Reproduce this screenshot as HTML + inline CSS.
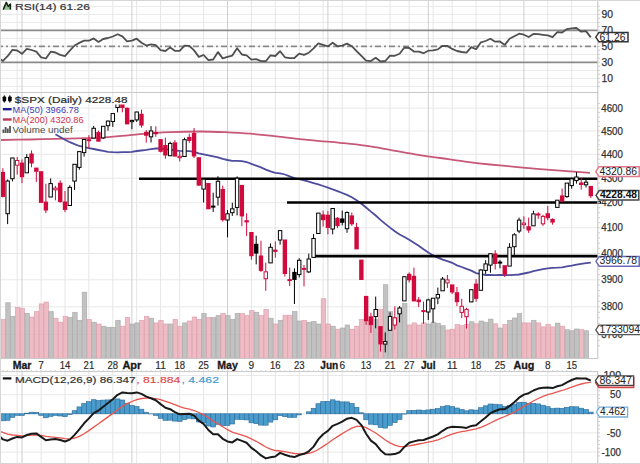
<!DOCTYPE html>
<html><head><meta charset="utf-8"><style>html,body{margin:0;padding:0;background:#fff;width:640px;height:464px;overflow:hidden}svg{display:block}</style></head><body><svg width="640" height="464" viewBox="0 0 640 464" font-family="Liberation Sans, sans-serif"><rect width="640" height="464" fill="#fff"/><path d="M0 86.4H597.8 M0 78.4H597.8 M0 70.4H597.8 M0 62.4H597.8 M0 54.4H597.8 M0 46.4H597.8 M0 38.4H597.8 M0 30.4H597.8 M0 22.4H597.8 M0 14.4H597.8 M0 6.4H597.8 M0 334.5H597.8 M0 306.8H597.8 M0 279.8H597.8 M0 253.5H597.8 M0 227.8H597.8 M0 202.7H597.8 M0 178.2H597.8 M0 154.3H597.8 M0 131.0H597.8 M0 108.1H597.8 M0 452.1H597.8 M0 432.9H597.8 M0 413.8H597.8 M0 394.7H597.8 M0 375.5H597.8" stroke="#e9e9e9" stroke-width="1" fill="none"/><path d="M17.2 0V92.5 M17.2 92.5V358.5 M17.2 371.6V464 M41.1 0V92.5 M41.1 92.5V358.5 M41.1 371.6V464 M65.0 0V92.5 M65.0 92.5V358.5 M65.0 371.6V464 M88.9 0V92.5 M88.9 92.5V358.5 M88.9 371.6V464 M112.8 0V92.5 M112.8 92.5V358.5 M112.8 371.6V464 M136.7 0V92.5 M136.7 92.5V358.5 M136.7 371.6V464 M160.6 0V92.5 M160.6 92.5V358.5 M160.6 371.6V464 M179.7 0V92.5 M179.7 92.5V358.5 M179.7 371.6V464 M203.6 0V92.5 M203.6 92.5V358.5 M203.6 371.6V464 M251.4 0V92.5 M251.4 92.5V358.5 M251.4 371.6V464 M275.3 0V92.5 M275.3 92.5V358.5 M275.3 371.6V464 M299.2 0V92.5 M299.2 92.5V358.5 M299.2 371.6V464 M323.1 0V92.5 M323.1 92.5V358.5 M323.1 371.6V464 M342.2 0V92.5 M342.2 92.5V358.5 M342.2 371.6V464 M366.1 0V92.5 M366.1 92.5V358.5 M366.1 371.6V464 M390.0 0V92.5 M390.0 92.5V358.5 M390.0 371.6V464 M409.2 0V92.5 M409.2 92.5V358.5 M409.2 371.6V464 M433.1 0V92.5 M433.1 92.5V358.5 M433.1 371.6V464 M452.2 0V92.5 M452.2 92.5V358.5 M452.2 371.6V464 M476.1 0V92.5 M476.1 92.5V358.5 M476.1 371.6V464 M500.0 0V92.5 M500.0 92.5V358.5 M500.0 371.6V464 M547.8 0V92.5 M547.8 92.5V358.5 M547.8 371.6V464 M571.7 0V92.5 M571.7 92.5V358.5 M571.7 371.6V464" stroke="#e6e6e6" stroke-width="1" fill="none"/><path d="M22.0 0V92.5 M22.0 92.5V358.5 M22.0 371.6V464 M131.9 0V92.5 M131.9 92.5V358.5 M131.9 371.6V464 M227.5 0V92.5 M227.5 92.5V358.5 M227.5 371.6V464 M327.9 0V92.5 M327.9 92.5V358.5 M327.9 371.6V464 M428.3 0V92.5 M428.3 92.5V358.5 M428.3 371.6V464 M523.9 0V92.5 M523.9 92.5V358.5 M523.9 371.6V464" stroke="#cfcfcf" stroke-width="1" fill="none"/><path d="M0 30.4H597.8M0 62.4H597.8" stroke="#8a8a8a" stroke-width="1.6" fill="none"/><path d="M0 46.4H597.8" stroke="#8a8a8a" stroke-width="1.7" stroke-dasharray="6 3 2 3" stroke-dashoffset="3" fill="none"/><polyline points="-1.9,57.7 2.9,60.9 7.6,56.2 12.4,49.9 17.2,50.5 22.0,53.8 26.8,48.8 31.5,50.0 36.3,51.7 41.1,57.3 45.9,58.5 50.7,51.7 55.4,52.5 60.2,54.9 65.0,56.2 69.8,50.6 74.6,45.5 79.3,42.9 84.1,40.6 88.9,40.7 93.7,38.4 98.5,41.9 103.2,39.0 108.0,38.0 112.8,36.5 117.6,34.2 122.4,36.4 127.1,41.4 131.9,40.6 136.7,38.7 141.5,42.7 146.3,45.6 151.0,44.4 155.8,45.2 160.6,50.1 165.4,51.0 170.2,47.4 174.9,50.8 179.7,50.8 184.5,45.7 189.3,45.9 194.1,50.4 198.8,56.9 203.6,55.0 208.4,60.2 213.2,59.5 218.0,52.1 222.7,58.4 227.5,56.9 232.3,55.6 237.1,48.3 241.9,54.5 246.6,55.4 251.4,59.7 256.2,59.1 261.0,61.1 265.8,61.2 270.5,55.4 275.3,56.0 280.1,51.2 284.9,57.3 289.7,58.1 294.4,58.0 299.2,53.7 304.0,54.9 308.8,52.7 313.6,48.3 318.3,43.4 323.1,44.8 327.9,46.4 332.7,42.7 337.5,46.3 342.2,45.6 347.0,43.6 351.8,46.2 356.6,51.1 361.4,55.9 366.1,60.7 370.9,61.1 375.7,57.8 380.5,61.5 385.3,61.0 390.0,55.6 394.8,55.8 399.6,53.7 404.4,47.5 409.2,48.0 413.9,51.5 418.7,51.7 423.5,53.2 428.3,50.7 433.1,50.3 437.8,49.4 442.6,45.8 447.4,46.0 452.2,48.9 457.0,51.0 461.7,52.0 466.5,52.7 471.3,47.1 476.1,49.2 480.9,42.3 485.6,41.0 490.4,38.8 495.2,41.7 500.0,41.4 504.8,44.9 509.5,38.8 514.3,36.3 519.1,33.7 523.9,34.7 528.7,37.0 533.4,33.9 538.2,34.2 543.0,34.8 547.8,35.3 552.6,37.1 557.3,32.2 562.1,32.5 566.9,29.1 571.7,28.3 576.5,28.0 581.2,31.7 586.0,31.1 590.8,37.4" stroke="#505050" stroke-width="1.8" fill="none" stroke-linejoin="round"/><rect x="0.96" y="319.4" width="4.5" height="38.9" fill="#eaadb7" fill-opacity="0.82" stroke="#dc9aa8" stroke-opacity="0.85" stroke-width="0.7"/><rect x="5.74" y="302.7" width="4.5" height="55.6" fill="#b4b4b4" fill-opacity="0.82" stroke="#a6a6a6" stroke-opacity="0.85" stroke-width="0.7"/><rect x="10.52" y="316.3" width="4.5" height="42.0" fill="#b4b4b4" fill-opacity="0.82" stroke="#a6a6a6" stroke-opacity="0.85" stroke-width="0.7"/><rect x="15.30" y="307.4" width="4.5" height="50.9" fill="#eaadb7" fill-opacity="0.82" stroke="#dc9aa8" stroke-opacity="0.85" stroke-width="0.7"/><rect x="20.08" y="308.6" width="4.5" height="49.7" fill="#eaadb7" fill-opacity="0.82" stroke="#dc9aa8" stroke-opacity="0.85" stroke-width="0.7"/><rect x="24.86" y="313.3" width="4.5" height="45.0" fill="#b4b4b4" fill-opacity="0.82" stroke="#a6a6a6" stroke-opacity="0.85" stroke-width="0.7"/><rect x="29.64" y="317.0" width="4.5" height="41.3" fill="#eaadb7" fill-opacity="0.82" stroke="#dc9aa8" stroke-opacity="0.85" stroke-width="0.7"/><rect x="34.42" y="311.6" width="4.5" height="46.7" fill="#eaadb7" fill-opacity="0.82" stroke="#dc9aa8" stroke-opacity="0.85" stroke-width="0.7"/><rect x="39.20" y="303.9" width="4.5" height="54.4" fill="#eaadb7" fill-opacity="0.82" stroke="#dc9aa8" stroke-opacity="0.85" stroke-width="0.7"/><rect x="43.98" y="302.0" width="4.5" height="56.3" fill="#eaadb7" fill-opacity="0.82" stroke="#dc9aa8" stroke-opacity="0.85" stroke-width="0.7"/><rect x="48.76" y="311.6" width="4.5" height="46.7" fill="#b4b4b4" fill-opacity="0.82" stroke="#a6a6a6" stroke-opacity="0.85" stroke-width="0.7"/><rect x="53.54" y="318.2" width="4.5" height="40.1" fill="#eaadb7" fill-opacity="0.82" stroke="#dc9aa8" stroke-opacity="0.85" stroke-width="0.7"/><rect x="58.32" y="322.2" width="4.5" height="36.1" fill="#eaadb7" fill-opacity="0.82" stroke="#dc9aa8" stroke-opacity="0.85" stroke-width="0.7"/><rect x="63.10" y="316.3" width="4.5" height="42.0" fill="#eaadb7" fill-opacity="0.82" stroke="#dc9aa8" stroke-opacity="0.85" stroke-width="0.7"/><rect x="67.88" y="317.5" width="4.5" height="40.8" fill="#b4b4b4" fill-opacity="0.82" stroke="#a6a6a6" stroke-opacity="0.85" stroke-width="0.7"/><rect x="72.66" y="312.3" width="4.5" height="46.0" fill="#b4b4b4" fill-opacity="0.82" stroke="#a6a6a6" stroke-opacity="0.85" stroke-width="0.7"/><rect x="77.44" y="320.3" width="4.5" height="38.0" fill="#b4b4b4" fill-opacity="0.82" stroke="#a6a6a6" stroke-opacity="0.85" stroke-width="0.7"/><rect x="82.22" y="292.2" width="4.5" height="66.1" fill="#b4b4b4" fill-opacity="0.82" stroke="#a6a6a6" stroke-opacity="0.85" stroke-width="0.7"/><rect x="87.00" y="319.4" width="4.5" height="38.9" fill="#eaadb7" fill-opacity="0.82" stroke="#dc9aa8" stroke-opacity="0.85" stroke-width="0.7"/><rect x="91.78" y="322.2" width="4.5" height="36.1" fill="#b4b4b4" fill-opacity="0.82" stroke="#a6a6a6" stroke-opacity="0.85" stroke-width="0.7"/><rect x="96.56" y="324.0" width="4.5" height="34.3" fill="#eaadb7" fill-opacity="0.82" stroke="#dc9aa8" stroke-opacity="0.85" stroke-width="0.7"/><rect x="101.34" y="326.2" width="4.5" height="32.1" fill="#b4b4b4" fill-opacity="0.82" stroke="#a6a6a6" stroke-opacity="0.85" stroke-width="0.7"/><rect x="106.12" y="327.3" width="4.5" height="31.0" fill="#b4b4b4" fill-opacity="0.82" stroke="#a6a6a6" stroke-opacity="0.85" stroke-width="0.7"/><rect x="110.90" y="327.3" width="4.5" height="31.0" fill="#b4b4b4" fill-opacity="0.82" stroke="#a6a6a6" stroke-opacity="0.85" stroke-width="0.7"/><rect x="115.68" y="320.3" width="4.5" height="38.0" fill="#b4b4b4" fill-opacity="0.82" stroke="#a6a6a6" stroke-opacity="0.85" stroke-width="0.7"/><rect x="120.46" y="326.2" width="4.5" height="32.1" fill="#eaadb7" fill-opacity="0.82" stroke="#dc9aa8" stroke-opacity="0.85" stroke-width="0.7"/><rect x="125.24" y="317.5" width="4.5" height="40.8" fill="#eaadb7" fill-opacity="0.82" stroke="#dc9aa8" stroke-opacity="0.85" stroke-width="0.7"/><rect x="130.02" y="324.0" width="4.5" height="34.3" fill="#b4b4b4" fill-opacity="0.82" stroke="#a6a6a6" stroke-opacity="0.85" stroke-width="0.7"/><rect x="134.80" y="322.9" width="4.5" height="35.4" fill="#b4b4b4" fill-opacity="0.82" stroke="#a6a6a6" stroke-opacity="0.85" stroke-width="0.7"/><rect x="139.58" y="320.3" width="4.5" height="38.0" fill="#eaadb7" fill-opacity="0.82" stroke="#dc9aa8" stroke-opacity="0.85" stroke-width="0.7"/><rect x="144.36" y="316.3" width="4.5" height="42.0" fill="#eaadb7" fill-opacity="0.82" stroke="#dc9aa8" stroke-opacity="0.85" stroke-width="0.7"/><rect x="149.14" y="318.2" width="4.5" height="40.1" fill="#b4b4b4" fill-opacity="0.82" stroke="#a6a6a6" stroke-opacity="0.85" stroke-width="0.7"/><rect x="153.92" y="322.9" width="4.5" height="35.4" fill="#eaadb7" fill-opacity="0.82" stroke="#dc9aa8" stroke-opacity="0.85" stroke-width="0.7"/><rect x="158.70" y="320.3" width="4.5" height="38.0" fill="#eaadb7" fill-opacity="0.82" stroke="#dc9aa8" stroke-opacity="0.85" stroke-width="0.7"/><rect x="163.48" y="324.0" width="4.5" height="34.3" fill="#eaadb7" fill-opacity="0.82" stroke="#dc9aa8" stroke-opacity="0.85" stroke-width="0.7"/><rect x="168.26" y="324.0" width="4.5" height="34.3" fill="#b4b4b4" fill-opacity="0.82" stroke="#a6a6a6" stroke-opacity="0.85" stroke-width="0.7"/><rect x="173.04" y="319.4" width="4.5" height="38.9" fill="#eaadb7" fill-opacity="0.82" stroke="#dc9aa8" stroke-opacity="0.85" stroke-width="0.7"/><rect x="177.82" y="326.2" width="4.5" height="32.1" fill="#eaadb7" fill-opacity="0.82" stroke="#dc9aa8" stroke-opacity="0.85" stroke-width="0.7"/><rect x="182.60" y="322.9" width="4.5" height="35.4" fill="#b4b4b4" fill-opacity="0.82" stroke="#a6a6a6" stroke-opacity="0.85" stroke-width="0.7"/><rect x="187.38" y="321.0" width="4.5" height="37.3" fill="#eaadb7" fill-opacity="0.82" stroke="#dc9aa8" stroke-opacity="0.85" stroke-width="0.7"/><rect x="192.16" y="317.0" width="4.5" height="41.3" fill="#eaadb7" fill-opacity="0.82" stroke="#dc9aa8" stroke-opacity="0.85" stroke-width="0.7"/><rect x="196.94" y="319.4" width="4.5" height="38.9" fill="#eaadb7" fill-opacity="0.82" stroke="#dc9aa8" stroke-opacity="0.85" stroke-width="0.7"/><rect x="201.72" y="313.5" width="4.5" height="44.8" fill="#b4b4b4" fill-opacity="0.82" stroke="#a6a6a6" stroke-opacity="0.85" stroke-width="0.7"/><rect x="206.50" y="317.5" width="4.5" height="40.8" fill="#eaadb7" fill-opacity="0.82" stroke="#dc9aa8" stroke-opacity="0.85" stroke-width="0.7"/><rect x="211.28" y="317.5" width="4.5" height="40.8" fill="#b4b4b4" fill-opacity="0.82" stroke="#a6a6a6" stroke-opacity="0.85" stroke-width="0.7"/><rect x="216.06" y="315.6" width="4.5" height="42.7" fill="#b4b4b4" fill-opacity="0.82" stroke="#a6a6a6" stroke-opacity="0.85" stroke-width="0.7"/><rect x="220.84" y="313.5" width="4.5" height="44.8" fill="#eaadb7" fill-opacity="0.82" stroke="#dc9aa8" stroke-opacity="0.85" stroke-width="0.7"/><rect x="225.62" y="315.6" width="4.5" height="42.7" fill="#b4b4b4" fill-opacity="0.82" stroke="#a6a6a6" stroke-opacity="0.85" stroke-width="0.7"/><rect x="230.40" y="319.4" width="4.5" height="38.9" fill="#b4b4b4" fill-opacity="0.82" stroke="#a6a6a6" stroke-opacity="0.85" stroke-width="0.7"/><rect x="235.18" y="313.5" width="4.5" height="44.8" fill="#b4b4b4" fill-opacity="0.82" stroke="#a6a6a6" stroke-opacity="0.85" stroke-width="0.7"/><rect x="239.96" y="313.5" width="4.5" height="44.8" fill="#eaadb7" fill-opacity="0.82" stroke="#dc9aa8" stroke-opacity="0.85" stroke-width="0.7"/><rect x="244.74" y="315.6" width="4.5" height="42.7" fill="#eaadb7" fill-opacity="0.82" stroke="#dc9aa8" stroke-opacity="0.85" stroke-width="0.7"/><rect x="249.52" y="310.5" width="4.5" height="47.8" fill="#eaadb7" fill-opacity="0.82" stroke="#dc9aa8" stroke-opacity="0.85" stroke-width="0.7"/><rect x="254.30" y="312.3" width="4.5" height="46.0" fill="#b4b4b4" fill-opacity="0.82" stroke="#a6a6a6" stroke-opacity="0.85" stroke-width="0.7"/><rect x="259.08" y="315.6" width="4.5" height="42.7" fill="#eaadb7" fill-opacity="0.82" stroke="#dc9aa8" stroke-opacity="0.85" stroke-width="0.7"/><rect x="263.86" y="309.5" width="4.5" height="48.8" fill="#eaadb7" fill-opacity="0.82" stroke="#dc9aa8" stroke-opacity="0.85" stroke-width="0.7"/><rect x="268.64" y="318.2" width="4.5" height="40.1" fill="#b4b4b4" fill-opacity="0.82" stroke="#a6a6a6" stroke-opacity="0.85" stroke-width="0.7"/><rect x="273.42" y="324.0" width="4.5" height="34.3" fill="#eaadb7" fill-opacity="0.82" stroke="#dc9aa8" stroke-opacity="0.85" stroke-width="0.7"/><rect x="278.20" y="320.3" width="4.5" height="38.0" fill="#b4b4b4" fill-opacity="0.82" stroke="#a6a6a6" stroke-opacity="0.85" stroke-width="0.7"/><rect x="282.98" y="315.2" width="4.5" height="43.1" fill="#eaadb7" fill-opacity="0.82" stroke="#dc9aa8" stroke-opacity="0.85" stroke-width="0.7"/><rect x="287.76" y="315.2" width="4.5" height="43.1" fill="#eaadb7" fill-opacity="0.82" stroke="#dc9aa8" stroke-opacity="0.85" stroke-width="0.7"/><rect x="292.54" y="311.6" width="4.5" height="46.7" fill="#b4b4b4" fill-opacity="0.82" stroke="#a6a6a6" stroke-opacity="0.85" stroke-width="0.7"/><rect x="297.32" y="321.0" width="4.5" height="37.3" fill="#b4b4b4" fill-opacity="0.82" stroke="#a6a6a6" stroke-opacity="0.85" stroke-width="0.7"/><rect x="302.10" y="320.3" width="4.5" height="38.0" fill="#eaadb7" fill-opacity="0.82" stroke="#dc9aa8" stroke-opacity="0.85" stroke-width="0.7"/><rect x="306.88" y="322.2" width="4.5" height="36.1" fill="#b4b4b4" fill-opacity="0.82" stroke="#a6a6a6" stroke-opacity="0.85" stroke-width="0.7"/><rect x="311.66" y="321.5" width="4.5" height="36.8" fill="#b4b4b4" fill-opacity="0.82" stroke="#a6a6a6" stroke-opacity="0.85" stroke-width="0.7"/><rect x="316.44" y="324.0" width="4.5" height="34.3" fill="#b4b4b4" fill-opacity="0.82" stroke="#a6a6a6" stroke-opacity="0.85" stroke-width="0.7"/><rect x="321.22" y="298.7" width="4.5" height="59.6" fill="#eaadb7" fill-opacity="0.82" stroke="#dc9aa8" stroke-opacity="0.85" stroke-width="0.7"/><rect x="326.00" y="324.0" width="4.5" height="34.3" fill="#eaadb7" fill-opacity="0.82" stroke="#dc9aa8" stroke-opacity="0.85" stroke-width="0.7"/><rect x="330.78" y="326.2" width="4.5" height="32.1" fill="#b4b4b4" fill-opacity="0.82" stroke="#a6a6a6" stroke-opacity="0.85" stroke-width="0.7"/><rect x="335.56" y="329.2" width="4.5" height="29.1" fill="#eaadb7" fill-opacity="0.82" stroke="#dc9aa8" stroke-opacity="0.85" stroke-width="0.7"/><rect x="340.34" y="328.0" width="4.5" height="30.3" fill="#b4b4b4" fill-opacity="0.82" stroke="#a6a6a6" stroke-opacity="0.85" stroke-width="0.7"/><rect x="345.12" y="325.0" width="4.5" height="33.3" fill="#b4b4b4" fill-opacity="0.82" stroke="#a6a6a6" stroke-opacity="0.85" stroke-width="0.7"/><rect x="349.90" y="329.2" width="4.5" height="29.1" fill="#eaadb7" fill-opacity="0.82" stroke="#dc9aa8" stroke-opacity="0.85" stroke-width="0.7"/><rect x="354.68" y="326.2" width="4.5" height="32.1" fill="#eaadb7" fill-opacity="0.82" stroke="#dc9aa8" stroke-opacity="0.85" stroke-width="0.7"/><rect x="359.46" y="319.4" width="4.5" height="38.9" fill="#eaadb7" fill-opacity="0.82" stroke="#dc9aa8" stroke-opacity="0.85" stroke-width="0.7"/><rect x="364.24" y="320.3" width="4.5" height="38.0" fill="#eaadb7" fill-opacity="0.82" stroke="#dc9aa8" stroke-opacity="0.85" stroke-width="0.7"/><rect x="369.02" y="317.5" width="4.5" height="40.8" fill="#eaadb7" fill-opacity="0.82" stroke="#dc9aa8" stroke-opacity="0.85" stroke-width="0.7"/><rect x="373.80" y="319.4" width="4.5" height="38.9" fill="#b4b4b4" fill-opacity="0.82" stroke="#a6a6a6" stroke-opacity="0.85" stroke-width="0.7"/><rect x="378.58" y="309.3" width="4.5" height="49.0" fill="#eaadb7" fill-opacity="0.82" stroke="#dc9aa8" stroke-opacity="0.85" stroke-width="0.7"/><rect x="383.36" y="284.7" width="4.5" height="73.6" fill="#b4b4b4" fill-opacity="0.82" stroke="#a6a6a6" stroke-opacity="0.85" stroke-width="0.7"/><rect x="388.14" y="311.6" width="4.5" height="46.7" fill="#b4b4b4" fill-opacity="0.82" stroke="#a6a6a6" stroke-opacity="0.85" stroke-width="0.7"/><rect x="392.92" y="317.5" width="4.5" height="40.8" fill="#eaadb7" fill-opacity="0.82" stroke="#dc9aa8" stroke-opacity="0.85" stroke-width="0.7"/><rect x="397.70" y="311.6" width="4.5" height="46.7" fill="#b4b4b4" fill-opacity="0.82" stroke="#a6a6a6" stroke-opacity="0.85" stroke-width="0.7"/><rect x="402.48" y="303.4" width="4.5" height="54.9" fill="#b4b4b4" fill-opacity="0.82" stroke="#a6a6a6" stroke-opacity="0.85" stroke-width="0.7"/><rect x="407.26" y="325.0" width="4.5" height="33.3" fill="#eaadb7" fill-opacity="0.82" stroke="#dc9aa8" stroke-opacity="0.85" stroke-width="0.7"/><rect x="412.04" y="322.9" width="4.5" height="35.4" fill="#eaadb7" fill-opacity="0.82" stroke="#dc9aa8" stroke-opacity="0.85" stroke-width="0.7"/><rect x="416.82" y="325.0" width="4.5" height="33.3" fill="#eaadb7" fill-opacity="0.82" stroke="#dc9aa8" stroke-opacity="0.85" stroke-width="0.7"/><rect x="421.60" y="322.9" width="4.5" height="35.4" fill="#eaadb7" fill-opacity="0.82" stroke="#dc9aa8" stroke-opacity="0.85" stroke-width="0.7"/><rect x="426.38" y="324.0" width="4.5" height="34.3" fill="#b4b4b4" fill-opacity="0.82" stroke="#a6a6a6" stroke-opacity="0.85" stroke-width="0.7"/><rect x="431.16" y="322.2" width="4.5" height="36.1" fill="#b4b4b4" fill-opacity="0.82" stroke="#a6a6a6" stroke-opacity="0.85" stroke-width="0.7"/><rect x="435.94" y="323.4" width="4.5" height="34.9" fill="#b4b4b4" fill-opacity="0.82" stroke="#a6a6a6" stroke-opacity="0.85" stroke-width="0.7"/><rect x="440.72" y="325.7" width="4.5" height="32.6" fill="#b4b4b4" fill-opacity="0.82" stroke="#a6a6a6" stroke-opacity="0.85" stroke-width="0.7"/><rect x="445.50" y="330.0" width="4.5" height="28.3" fill="#eaadb7" fill-opacity="0.82" stroke="#dc9aa8" stroke-opacity="0.85" stroke-width="0.7"/><rect x="450.28" y="329.2" width="4.5" height="29.1" fill="#eaadb7" fill-opacity="0.82" stroke="#dc9aa8" stroke-opacity="0.85" stroke-width="0.7"/><rect x="455.06" y="324.5" width="4.5" height="33.8" fill="#eaadb7" fill-opacity="0.82" stroke="#dc9aa8" stroke-opacity="0.85" stroke-width="0.7"/><rect x="459.84" y="325.7" width="4.5" height="32.6" fill="#eaadb7" fill-opacity="0.82" stroke="#dc9aa8" stroke-opacity="0.85" stroke-width="0.7"/><rect x="464.62" y="324.5" width="4.5" height="33.8" fill="#eaadb7" fill-opacity="0.82" stroke="#dc9aa8" stroke-opacity="0.85" stroke-width="0.7"/><rect x="469.40" y="321.7" width="4.5" height="36.6" fill="#b4b4b4" fill-opacity="0.82" stroke="#a6a6a6" stroke-opacity="0.85" stroke-width="0.7"/><rect x="474.18" y="323.8" width="4.5" height="34.5" fill="#eaadb7" fill-opacity="0.82" stroke="#dc9aa8" stroke-opacity="0.85" stroke-width="0.7"/><rect x="478.96" y="321.0" width="4.5" height="37.3" fill="#b4b4b4" fill-opacity="0.82" stroke="#a6a6a6" stroke-opacity="0.85" stroke-width="0.7"/><rect x="483.74" y="322.2" width="4.5" height="36.1" fill="#b4b4b4" fill-opacity="0.82" stroke="#a6a6a6" stroke-opacity="0.85" stroke-width="0.7"/><rect x="488.52" y="319.1" width="4.5" height="39.2" fill="#b4b4b4" fill-opacity="0.82" stroke="#a6a6a6" stroke-opacity="0.85" stroke-width="0.7"/><rect x="493.30" y="323.8" width="4.5" height="34.5" fill="#eaadb7" fill-opacity="0.82" stroke="#dc9aa8" stroke-opacity="0.85" stroke-width="0.7"/><rect x="498.08" y="328.0" width="4.5" height="30.3" fill="#b4b4b4" fill-opacity="0.82" stroke="#a6a6a6" stroke-opacity="0.85" stroke-width="0.7"/><rect x="502.86" y="324.5" width="4.5" height="33.8" fill="#eaadb7" fill-opacity="0.82" stroke="#dc9aa8" stroke-opacity="0.85" stroke-width="0.7"/><rect x="507.64" y="320.3" width="4.5" height="38.0" fill="#b4b4b4" fill-opacity="0.82" stroke="#a6a6a6" stroke-opacity="0.85" stroke-width="0.7"/><rect x="512.42" y="318.0" width="4.5" height="40.3" fill="#b4b4b4" fill-opacity="0.82" stroke="#a6a6a6" stroke-opacity="0.85" stroke-width="0.7"/><rect x="517.20" y="313.5" width="4.5" height="44.8" fill="#b4b4b4" fill-opacity="0.82" stroke="#a6a6a6" stroke-opacity="0.85" stroke-width="0.7"/><rect x="521.98" y="322.9" width="4.5" height="35.4" fill="#eaadb7" fill-opacity="0.82" stroke="#dc9aa8" stroke-opacity="0.85" stroke-width="0.7"/><rect x="526.76" y="322.9" width="4.5" height="35.4" fill="#eaadb7" fill-opacity="0.82" stroke="#dc9aa8" stroke-opacity="0.85" stroke-width="0.7"/><rect x="531.54" y="320.3" width="4.5" height="38.0" fill="#b4b4b4" fill-opacity="0.82" stroke="#a6a6a6" stroke-opacity="0.85" stroke-width="0.7"/><rect x="536.32" y="322.9" width="4.5" height="35.4" fill="#eaadb7" fill-opacity="0.82" stroke="#dc9aa8" stroke-opacity="0.85" stroke-width="0.7"/><rect x="541.10" y="326.9" width="4.5" height="31.4" fill="#eaadb7" fill-opacity="0.82" stroke="#dc9aa8" stroke-opacity="0.85" stroke-width="0.7"/><rect x="545.88" y="324.5" width="4.5" height="33.8" fill="#eaadb7" fill-opacity="0.82" stroke="#dc9aa8" stroke-opacity="0.85" stroke-width="0.7"/><rect x="550.66" y="326.9" width="4.5" height="31.4" fill="#eaadb7" fill-opacity="0.82" stroke="#dc9aa8" stroke-opacity="0.85" stroke-width="0.7"/><rect x="555.44" y="323.1" width="4.5" height="35.2" fill="#b4b4b4" fill-opacity="0.82" stroke="#a6a6a6" stroke-opacity="0.85" stroke-width="0.7"/><rect x="560.22" y="326.2" width="4.5" height="32.1" fill="#eaadb7" fill-opacity="0.82" stroke="#dc9aa8" stroke-opacity="0.85" stroke-width="0.7"/><rect x="565.00" y="329.7" width="4.5" height="28.6" fill="#b4b4b4" fill-opacity="0.82" stroke="#a6a6a6" stroke-opacity="0.85" stroke-width="0.7"/><rect x="569.78" y="330.7" width="4.5" height="27.6" fill="#b4b4b4" fill-opacity="0.82" stroke="#a6a6a6" stroke-opacity="0.85" stroke-width="0.7"/><rect x="574.56" y="329.0" width="4.5" height="29.3" fill="#b4b4b4" fill-opacity="0.82" stroke="#a6a6a6" stroke-opacity="0.85" stroke-width="0.7"/><rect x="579.34" y="329.7" width="4.5" height="28.6" fill="#eaadb7" fill-opacity="0.82" stroke="#dc9aa8" stroke-opacity="0.85" stroke-width="0.7"/><rect x="584.12" y="330.7" width="4.5" height="27.6" fill="#b4b4b4" fill-opacity="0.82" stroke="#a6a6a6" stroke-opacity="0.85" stroke-width="0.7"/><path d="M-3,140.1 C-2.5,140.1 -5.5,140.1 0,140 C5.5,139.9 20.8,139.7 30,139.5 C39.2,139.3 45.8,139.0 55,138.8 C64.2,138.6 76.7,138.4 85,138.2 C93.3,138.0 97.5,137.9 105,137.4 C112.5,136.9 122.5,135.9 130,135.2 C137.5,134.5 143.3,133.9 150,133.4 C156.7,132.9 161.7,132.4 170,132.1 C178.3,131.8 190.8,131.5 200,131.5 C209.2,131.5 216.7,131.8 225,132.2 C233.3,132.6 242.5,133.1 250,133.7 C257.5,134.3 261.7,134.7 270,135.6 C278.3,136.5 291.7,138.2 300,139.1 C308.3,140.0 313.3,140.5 320,141.1 C326.7,141.7 332.5,142.0 340,142.8 C347.5,143.6 356.7,144.5 365,145.7 C373.3,146.9 381.7,148.4 390,149.8 C398.3,151.2 406.7,152.9 415,154.3 C423.3,155.7 431.7,156.8 440,158 C448.3,159.2 456.7,160.6 465,161.7 C473.3,162.8 481.7,163.7 490,164.5 C498.3,165.3 506.7,166.0 515,166.8 C523.3,167.6 530.8,168.3 540,169.1 C549.2,169.8 561.7,170.7 570,171.3 C578.3,171.9 586.7,172.6 590,172.8" stroke="#c85878" stroke-width="1.8" fill="none"/><polyline points="55.4,134.3 60.2,137.0 65.0,139.8 69.8,142.2 74.6,144.2 79.3,146.0 84.1,147.1 88.9,148.2 93.7,149.0 98.5,150.0 103.2,150.9 108.0,151.8 112.8,152.2 117.6,152.3 122.4,152.2 127.1,152.2 131.9,151.9 136.7,151.0 141.5,150.5 146.3,149.9 151.0,149.2 155.8,148.5 160.6,148.5 165.4,149.1 170.2,149.6 174.9,150.5 179.7,150.9 184.5,151.1 189.3,151.2 194.1,151.8 198.8,153.3 203.6,154.3 208.4,155.4 213.2,156.4 218.0,157.3 222.7,158.9 227.5,160.0 232.3,160.8 237.1,160.9 241.9,161.2 246.6,162.0 251.4,163.9 256.2,165.7 261.0,167.4 265.8,169.6 270.5,171.3 275.3,172.8 280.1,173.3 284.9,174.5 289.7,176.4 294.4,178.1 299.2,179.2 304.0,180.3 308.8,181.7 313.6,183.1 318.3,184.4 323.1,186.0 327.9,187.7 332.7,189.4 337.5,191.1 342.2,193.0 347.0,194.9 351.8,197.2 356.6,200.2 361.4,203.7 366.1,207.5 370.9,211.6 375.7,215.5 380.5,219.9 385.3,223.9 390.0,227.6 394.8,231.3 399.6,234.5 404.4,237.0 409.2,239.8 413.9,242.7 418.7,245.7 423.5,249.2 428.3,252.4 433.1,255.4 437.8,257.6 442.6,259.6 447.4,261.1 452.2,262.8 457.0,265.3 461.7,267.0 466.5,268.9 471.3,270.6 476.1,273.1 480.9,274.2 485.6,275.0 490.4,275.0 495.2,275.2 500.0,275.0 504.8,275.1 509.5,275.1 514.3,274.8 519.1,274.5 523.9,273.5 528.7,272.5 533.4,271.2 538.2,270.2 543.0,269.1 547.8,268.3 552.6,267.9 557.3,267.7 562.1,267.3 566.9,266.3 571.7,265.7 576.5,264.7 581.2,263.9 586.0,263.2 590.8,262.6" stroke="#4e4c9c" stroke-width="1.8" fill="none"/><path d="M139 178.8H598M287 202.5H601M314.5 256.1H598" stroke="#000" stroke-width="2.6" fill="none"/><clipPath id="pc"><rect x="0" y="104.5" width="598" height="254"/></clipPath><g clip-path="url(#pc)"><path d="M2.86 168.2V172.4M2.86 196.4V197.4" stroke="#d00a3c" stroke-width="1" fill="none"/><rect x="0.66" y="171.9" width="4.4" height="25.0" fill="#d00a3c"/><path d="M7.64 179.5V181.0M7.64 213.7V224.1" stroke="#000" stroke-width="1" fill="none"/><rect x="5.94" y="181.0" width="3.4" height="32.7" fill="#fff" stroke="#000" stroke-width="1"/><path d="M12.42 157.8V158.0M12.42 178.6V181.4" stroke="#000" stroke-width="1" fill="none"/><rect x="10.72" y="158.0" width="3.4" height="20.7" fill="#fff" stroke="#000" stroke-width="1"/><path d="M17.20 157.0V160.5M17.20 165.2V174.6" stroke="#d00a3c" stroke-width="1" fill="none"/><rect x="15.50" y="160.5" width="3.4" height="4.7" fill="#fff" stroke="#d00a3c" stroke-width="1"/><path d="M21.98 159.4V163.1M21.98 176.7V183.2" stroke="#d00a3c" stroke-width="1" fill="none"/><rect x="19.78" y="162.6" width="4.4" height="14.6" fill="#d00a3c"/><path d="M26.76 154.0V157.5M26.76 172.8V172.8" stroke="#000" stroke-width="1" fill="none"/><rect x="25.06" y="157.5" width="3.4" height="15.3" fill="#fff" stroke="#000" stroke-width="1"/><path d="M31.54 150.4V154.0M31.54 163.0V167.3" stroke="#d00a3c" stroke-width="1" fill="none"/><rect x="29.34" y="153.5" width="4.4" height="10.0" fill="#d00a3c"/><path d="M36.32 168.1V168.1M36.32 171.3V181.9" stroke="#d00a3c" stroke-width="1" fill="none"/><rect x="34.12" y="167.6" width="4.4" height="4.2" fill="#d00a3c"/><path d="M41.10 171.7V171.7M41.10 202.4V202.7" stroke="#d00a3c" stroke-width="1" fill="none"/><rect x="38.90" y="171.2" width="4.4" height="31.7" fill="#d00a3c"/><path d="M45.88 183.8V202.1M45.88 210.0V213.2" stroke="#d00a3c" stroke-width="1" fill="none"/><rect x="43.68" y="201.6" width="4.4" height="8.9" fill="#d00a3c"/><path d="M50.66 178.4V183.6M50.66 197.0V197.0" stroke="#000" stroke-width="1" fill="none"/><rect x="48.96" y="183.6" width="3.4" height="13.4" fill="#fff" stroke="#000" stroke-width="1"/><path d="M55.44 185.9V188.1M55.44 189.8V200.3" stroke="#d00a3c" stroke-width="1" fill="none"/><rect x="53.74" y="188.1" width="3.4" height="1.7" fill="#fff" stroke="#d00a3c" stroke-width="1"/><path d="M60.22 180.4V183.2M60.22 201.6V202.6" stroke="#d00a3c" stroke-width="1" fill="none"/><rect x="58.02" y="182.7" width="4.4" height="19.4" fill="#d00a3c"/><path d="M65.00 191.0V202.0M65.00 209.4V212.2" stroke="#d00a3c" stroke-width="1" fill="none"/><rect x="62.80" y="201.5" width="4.4" height="8.4" fill="#d00a3c"/><path d="M69.78 185.3V187.4M69.78 205.5V205.7" stroke="#000" stroke-width="1" fill="none"/><rect x="68.08" y="187.4" width="3.4" height="18.1" fill="#fff" stroke="#000" stroke-width="1"/><path d="M74.56 164.1V164.3M74.56 181.1V189.9" stroke="#000" stroke-width="1" fill="none"/><rect x="72.86" y="164.3" width="3.4" height="16.8" fill="#fff" stroke="#000" stroke-width="1"/><path d="M79.34 151.3V151.6M79.34 167.4V169.7" stroke="#000" stroke-width="1" fill="none"/><rect x="77.64" y="151.6" width="3.4" height="15.8" fill="#fff" stroke="#000" stroke-width="1"/><path d="M84.12 139.0V139.5M84.12 152.6V156.6" stroke="#000" stroke-width="1" fill="none"/><rect x="82.42" y="139.5" width="3.4" height="13.1" fill="#fff" stroke="#000" stroke-width="1"/><path d="M88.90 135.2V139.7M88.90 140.0V148.6" stroke="#d00a3c" stroke-width="1" fill="none"/><rect x="86.70" y="139.2" width="4.4" height="2.0" fill="#d00a3c"/><path d="M93.68 125.9V128.3M93.68 138.1V138.2" stroke="#000" stroke-width="1" fill="none"/><rect x="91.98" y="128.3" width="3.4" height="9.8" fill="#fff" stroke="#000" stroke-width="1"/><path d="M98.46 130.7V132.6M98.46 141.1V141.2" stroke="#d00a3c" stroke-width="1" fill="none"/><rect x="96.26" y="132.1" width="4.4" height="9.6" fill="#d00a3c"/><path d="M103.24 126.2V126.3M103.24 137.9V139.0" stroke="#000" stroke-width="1" fill="none"/><rect x="101.54" y="126.3" width="3.4" height="11.6" fill="#fff" stroke="#000" stroke-width="1"/><path d="M108.02 120.4V121.1M108.02 125.7V130.7" stroke="#000" stroke-width="1" fill="none"/><rect x="106.32" y="121.1" width="3.4" height="4.6" fill="#fff" stroke="#000" stroke-width="1"/><path d="M112.80 113.6V113.6M112.80 121.5V126.9" stroke="#000" stroke-width="1" fill="none"/><rect x="111.10" y="113.6" width="3.4" height="7.9" fill="#fff" stroke="#000" stroke-width="1"/><path d="M117.58 99.7V101.0M117.58 107.5V112.4" stroke="#000" stroke-width="1" fill="none"/><rect x="115.88" y="101.0" width="3.4" height="6.5" fill="#fff" stroke="#000" stroke-width="1"/><path d="M122.36 101.8V102.6M122.36 107.5V112.3" stroke="#d00a3c" stroke-width="1" fill="none"/><rect x="120.16" y="102.1" width="4.4" height="5.9" fill="#d00a3c"/><path d="M127.14 107.4V108.3M127.14 124.0V124.0" stroke="#d00a3c" stroke-width="1" fill="none"/><rect x="124.94" y="107.8" width="4.4" height="16.6" fill="#d00a3c"/><path d="M131.92 119.8V120.4M131.92 121.7V129.2" stroke="#000" stroke-width="1" fill="none"/><rect x="130.22" y="120.4" width="3.4" height="1.3" fill="#fff" stroke="#000" stroke-width="1"/><path d="M136.70 111.8V112.0M136.70 119.9V121.9" stroke="#000" stroke-width="1" fill="none"/><rect x="135.00" y="112.0" width="3.4" height="7.9" fill="#fff" stroke="#000" stroke-width="1"/><path d="M141.48 109.6V114.3M141.48 125.2V127.7" stroke="#d00a3c" stroke-width="1" fill="none"/><rect x="139.28" y="113.8" width="4.4" height="11.8" fill="#d00a3c"/><path d="M146.26 130.0V132.3M146.26 135.3V142.6" stroke="#d00a3c" stroke-width="1" fill="none"/><rect x="144.06" y="131.8" width="4.4" height="4.0" fill="#d00a3c"/><path d="M151.04 126.1V130.9M151.04 136.8V142.5" stroke="#000" stroke-width="1" fill="none"/><rect x="149.34" y="130.9" width="3.4" height="5.9" fill="#fff" stroke="#000" stroke-width="1"/><path d="M155.82 126.3V132.3M155.82 133.7V136.8" stroke="#d00a3c" stroke-width="1" fill="none"/><rect x="153.62" y="131.8" width="4.4" height="2.4" fill="#d00a3c"/><path d="M160.60 139.2V139.6M160.60 151.4V152.4" stroke="#d00a3c" stroke-width="1" fill="none"/><rect x="158.40" y="139.1" width="4.4" height="12.7" fill="#d00a3c"/><path d="M165.38 137.7V145.5M165.38 154.9V158.7" stroke="#d00a3c" stroke-width="1" fill="none"/><rect x="163.18" y="145.0" width="4.4" height="10.5" fill="#d00a3c"/><path d="M170.16 141.7V143.4M170.16 155.7V156.1" stroke="#000" stroke-width="1" fill="none"/><rect x="168.46" y="143.4" width="3.4" height="12.3" fill="#fff" stroke="#000" stroke-width="1"/><path d="M174.94 140.1V142.8M174.94 156.1V156.5" stroke="#d00a3c" stroke-width="1" fill="none"/><rect x="172.74" y="142.3" width="4.4" height="14.3" fill="#d00a3c"/><path d="M179.72 151.9V156.3M179.72 157.7V161.4" stroke="#d00a3c" stroke-width="1" fill="none"/><rect x="178.02" y="156.3" width="3.4" height="1.4" fill="#fff" stroke="#d00a3c" stroke-width="1"/><path d="M184.50 137.7V139.7M184.50 156.5V156.5" stroke="#000" stroke-width="1" fill="none"/><rect x="182.80" y="139.7" width="3.4" height="16.8" fill="#fff" stroke="#000" stroke-width="1"/><path d="M189.28 133.7V137.4M189.28 140.4V142.9" stroke="#d00a3c" stroke-width="1" fill="none"/><rect x="187.08" y="136.9" width="4.4" height="4.0" fill="#d00a3c"/><path d="M194.06 128.0V133.5M194.06 155.8V158.0" stroke="#d00a3c" stroke-width="1" fill="none"/><rect x="191.86" y="133.0" width="4.4" height="23.4" fill="#d00a3c"/><path d="M198.84 157.7V157.7M198.84 185.1V186.1" stroke="#d00a3c" stroke-width="1" fill="none"/><rect x="196.64" y="157.2" width="4.4" height="28.4" fill="#d00a3c"/><path d="M203.62 178.5V179.2M203.62 189.1V202.5" stroke="#000" stroke-width="1" fill="none"/><rect x="201.92" y="179.2" width="3.4" height="9.9" fill="#fff" stroke="#000" stroke-width="1"/><path d="M208.40 183.5V183.5M208.40 208.9V208.9" stroke="#d00a3c" stroke-width="1" fill="none"/><rect x="206.20" y="183.0" width="4.4" height="26.3" fill="#d00a3c"/><path d="M213.18 192.7V206.1M213.18 206.7V211.9" stroke="#000" stroke-width="1" fill="none"/><rect x="210.98" y="205.6" width="4.4" height="2.0" fill="#000"/><path d="M217.96 176.2V181.3M217.96 197.1V205.5" stroke="#000" stroke-width="1" fill="none"/><rect x="216.26" y="181.3" width="3.4" height="15.9" fill="#fff" stroke="#000" stroke-width="1"/><path d="M222.74 185.6V189.5M222.74 219.7V221.6" stroke="#d00a3c" stroke-width="1" fill="none"/><rect x="220.54" y="189.0" width="4.4" height="31.2" fill="#d00a3c"/><path d="M227.52 210.2V213.8M227.52 220.0V237.3" stroke="#000" stroke-width="1" fill="none"/><rect x="225.82" y="213.8" width="3.4" height="6.2" fill="#fff" stroke="#000" stroke-width="1"/><path d="M232.30 202.7V208.8M232.30 212.7V215.9" stroke="#000" stroke-width="1" fill="none"/><rect x="230.60" y="208.8" width="3.4" height="3.9" fill="#fff" stroke="#000" stroke-width="1"/><path d="M237.08 176.4V178.2M237.08 207.4V215.4" stroke="#000" stroke-width="1" fill="none"/><rect x="235.38" y="178.2" width="3.4" height="29.2" fill="#fff" stroke="#000" stroke-width="1"/><path d="M241.86 185.4V185.4M241.86 216.0V226.2" stroke="#d00a3c" stroke-width="1" fill="none"/><rect x="239.66" y="184.9" width="4.4" height="31.5" fill="#d00a3c"/><path d="M246.64 213.2V220.7M246.64 221.9V235.9" stroke="#d00a3c" stroke-width="1" fill="none"/><rect x="244.44" y="220.2" width="4.4" height="2.2" fill="#d00a3c"/><path d="M251.42 232.5V232.5M251.42 255.7V259.8" stroke="#d00a3c" stroke-width="1" fill="none"/><rect x="249.22" y="232.0" width="4.4" height="24.2" fill="#d00a3c"/><path d="M256.20 235.7V244.3M256.20 253.2V264.4" stroke="#000" stroke-width="1" fill="none"/><rect x="254.00" y="243.8" width="4.4" height="9.8" fill="#000"/><path d="M260.98 240.8V256.0M260.98 270.4V272.1" stroke="#d00a3c" stroke-width="1" fill="none"/><rect x="258.78" y="255.5" width="4.4" height="15.4" fill="#d00a3c"/><path d="M265.76 262.6V271.8M265.76 278.7V290.8" stroke="#d00a3c" stroke-width="1" fill="none"/><rect x="264.06" y="271.8" width="3.4" height="6.9" fill="#fff" stroke="#d00a3c" stroke-width="1"/><path d="M270.54 243.4V247.3M270.54 262.9V262.9" stroke="#000" stroke-width="1" fill="none"/><rect x="268.84" y="247.3" width="3.4" height="15.6" fill="#fff" stroke="#000" stroke-width="1"/><path d="M275.32 241.4V250.1M275.32 251.4V257.6" stroke="#d00a3c" stroke-width="1" fill="none"/><rect x="273.12" y="249.6" width="4.4" height="2.3" fill="#d00a3c"/><path d="M280.10 230.1V230.6M280.10 240.0V244.7" stroke="#000" stroke-width="1" fill="none"/><rect x="278.40" y="230.6" width="3.4" height="9.4" fill="#fff" stroke="#000" stroke-width="1"/><path d="M284.88 240.0V240.0M284.88 273.5V276.6" stroke="#d00a3c" stroke-width="1" fill="none"/><rect x="282.68" y="239.5" width="4.4" height="34.5" fill="#d00a3c"/><path d="M289.66 267.6V279.6M289.66 280.0V286.0" stroke="#d00a3c" stroke-width="1" fill="none"/><rect x="287.96" y="279.6" width="3.4" height="1.0" fill="#fff" stroke="#d00a3c" stroke-width="1"/><path d="M294.44 268.3V272.4M294.44 279.4V304.0" stroke="#000" stroke-width="1" fill="none"/><rect x="292.24" y="271.9" width="4.4" height="8.0" fill="#000"/><path d="M299.22 258.2V260.3M299.22 274.6V277.4" stroke="#000" stroke-width="1" fill="none"/><rect x="297.52" y="260.3" width="3.4" height="14.3" fill="#fff" stroke="#000" stroke-width="1"/><path d="M304.00 265.0V268.4M304.00 268.8V286.4" stroke="#d00a3c" stroke-width="1" fill="none"/><rect x="301.80" y="267.9" width="4.4" height="2.0" fill="#d00a3c"/><path d="M308.78 253.6V259.0M308.78 271.9V273.1" stroke="#000" stroke-width="1" fill="none"/><rect x="307.08" y="259.0" width="3.4" height="12.9" fill="#fff" stroke="#000" stroke-width="1"/><path d="M313.56 234.1V238.5M313.56 257.5V257.5" stroke="#000" stroke-width="1" fill="none"/><rect x="311.86" y="238.5" width="3.4" height="18.9" fill="#fff" stroke="#000" stroke-width="1"/><path d="M318.34 213.0V213.1M318.34 233.5V233.5" stroke="#000" stroke-width="1" fill="none"/><rect x="316.64" y="213.1" width="3.4" height="20.4" fill="#fff" stroke="#000" stroke-width="1"/><path d="M323.12 210.6V214.9M323.12 219.6V226.5" stroke="#d00a3c" stroke-width="1" fill="none"/><rect x="320.92" y="214.4" width="4.4" height="5.8" fill="#d00a3c"/><path d="M327.90 211.0V215.2M327.90 227.5V234.4" stroke="#d00a3c" stroke-width="1" fill="none"/><rect x="325.70" y="214.7" width="4.4" height="13.2" fill="#d00a3c"/><path d="M332.68 208.3V208.5M332.68 228.9V234.3" stroke="#000" stroke-width="1" fill="none"/><rect x="330.98" y="208.5" width="3.4" height="20.5" fill="#fff" stroke="#000" stroke-width="1"/><path d="M337.46 217.0V218.3M337.46 225.6V228.1" stroke="#d00a3c" stroke-width="1" fill="none"/><rect x="335.26" y="217.8" width="4.4" height="8.3" fill="#d00a3c"/><path d="M342.24 210.5V219.0M342.24 222.4V225.4" stroke="#000" stroke-width="1" fill="none"/><rect x="340.04" y="218.5" width="4.4" height="4.3" fill="#000"/><path d="M347.02 211.4V212.5M347.02 228.7V232.8" stroke="#000" stroke-width="1" fill="none"/><rect x="345.32" y="212.5" width="3.4" height="16.2" fill="#fff" stroke="#000" stroke-width="1"/><path d="M351.80 212.6V215.9M351.80 223.8V225.9" stroke="#d00a3c" stroke-width="1" fill="none"/><rect x="349.60" y="215.4" width="4.4" height="8.9" fill="#d00a3c"/><path d="M356.58 222.9V227.4M356.58 248.8V249.0" stroke="#d00a3c" stroke-width="1" fill="none"/><rect x="354.38" y="226.9" width="4.4" height="22.5" fill="#d00a3c"/><path d="M361.36 260.1V260.1M361.36 279.6V279.7" stroke="#d00a3c" stroke-width="1" fill="none"/><rect x="359.16" y="259.6" width="4.4" height="20.4" fill="#d00a3c"/><path d="M366.14 296.4V296.4M366.14 320.7V324.9" stroke="#d00a3c" stroke-width="1" fill="none"/><rect x="363.94" y="295.9" width="4.4" height="25.3" fill="#d00a3c"/><path d="M370.92 312.8V316.8M370.92 324.6V332.9" stroke="#d00a3c" stroke-width="1" fill="none"/><rect x="368.72" y="316.3" width="4.4" height="8.8" fill="#d00a3c"/><path d="M375.70 296.6V309.5M375.70 316.7V328.3" stroke="#000" stroke-width="1" fill="none"/><rect x="374.00" y="309.5" width="3.4" height="7.1" fill="#fff" stroke="#000" stroke-width="1"/><path d="M380.48 326.6V326.6M380.48 343.9V351.6" stroke="#d00a3c" stroke-width="1" fill="none"/><rect x="378.28" y="326.1" width="4.4" height="18.3" fill="#d00a3c"/><path d="M385.26 332.4V341.6M385.26 344.2V352.4" stroke="#000" stroke-width="1" fill="none"/><rect x="383.56" y="341.6" width="3.4" height="2.5" fill="#fff" stroke="#000" stroke-width="1"/><path d="M390.04 312.4V316.5M390.04 330.2V330.2" stroke="#000" stroke-width="1" fill="none"/><rect x="388.34" y="316.5" width="3.4" height="13.8" fill="#fff" stroke="#000" stroke-width="1"/><path d="M394.82 306.3V317.8M394.82 325.0V329.6" stroke="#d00a3c" stroke-width="1" fill="none"/><rect x="393.12" y="317.8" width="3.4" height="7.2" fill="#fff" stroke="#d00a3c" stroke-width="1"/><path d="M399.60 306.1V308.0M399.60 313.7V322.4" stroke="#000" stroke-width="1" fill="none"/><rect x="397.90" y="308.0" width="3.4" height="5.8" fill="#fff" stroke="#000" stroke-width="1"/><path d="M404.38 276.1V276.7M404.38 300.9V300.9" stroke="#000" stroke-width="1" fill="none"/><rect x="402.68" y="276.7" width="3.4" height="24.2" fill="#fff" stroke="#000" stroke-width="1"/><path d="M409.16 272.4V274.3M409.16 279.8V282.5" stroke="#d00a3c" stroke-width="1" fill="none"/><rect x="406.96" y="273.8" width="4.4" height="6.5" fill="#d00a3c"/><path d="M413.94 267.6V276.3M413.94 300.9V301.3" stroke="#d00a3c" stroke-width="1" fill="none"/><rect x="411.74" y="275.8" width="4.4" height="25.6" fill="#d00a3c"/><path d="M418.72 296.9V300.0M418.72 301.7V307.1" stroke="#d00a3c" stroke-width="1" fill="none"/><rect x="416.52" y="299.5" width="4.4" height="2.7" fill="#d00a3c"/><path d="M423.50 301.6V310.6M423.50 310.8V323.7" stroke="#d00a3c" stroke-width="1" fill="none"/><rect x="421.30" y="310.1" width="4.4" height="2.0" fill="#d00a3c"/><path d="M428.28 298.7V299.9M428.28 312.0V320.0" stroke="#000" stroke-width="1" fill="none"/><rect x="426.58" y="299.9" width="3.4" height="12.1" fill="#fff" stroke="#000" stroke-width="1"/><path d="M433.06 298.0V298.2M433.06 308.8V322.8" stroke="#000" stroke-width="1" fill="none"/><rect x="431.36" y="298.2" width="3.4" height="10.6" fill="#fff" stroke="#000" stroke-width="1"/><path d="M437.84 287.6V294.5M437.84 298.1V304.2" stroke="#000" stroke-width="1" fill="none"/><rect x="436.14" y="294.5" width="3.4" height="3.5" fill="#fff" stroke="#000" stroke-width="1"/><path d="M442.62 277.0V279.1M442.62 290.8V290.8" stroke="#000" stroke-width="1" fill="none"/><rect x="440.92" y="279.1" width="3.4" height="11.7" fill="#fff" stroke="#000" stroke-width="1"/><path d="M447.40 274.9V279.9M447.40 282.9V288.0" stroke="#d00a3c" stroke-width="1" fill="none"/><rect x="445.70" y="279.9" width="3.4" height="3.0" fill="#fff" stroke="#d00a3c" stroke-width="1"/><path d="M452.18 284.9V284.9M452.18 292.0V294.0" stroke="#d00a3c" stroke-width="1" fill="none"/><rect x="449.98" y="284.4" width="4.4" height="8.1" fill="#d00a3c"/><path d="M456.96 286.9V292.7M456.96 301.7V306.2" stroke="#d00a3c" stroke-width="1" fill="none"/><rect x="454.76" y="292.2" width="4.4" height="10.0" fill="#d00a3c"/><path d="M461.74 298.8V306.3M461.74 312.4V318.1" stroke="#d00a3c" stroke-width="1" fill="none"/><rect x="460.04" y="306.3" width="3.4" height="6.1" fill="#fff" stroke="#d00a3c" stroke-width="1"/><path d="M466.52 307.8V309.4M466.52 316.7V328.5" stroke="#d00a3c" stroke-width="1" fill="none"/><rect x="464.82" y="309.4" width="3.4" height="7.3" fill="#fff" stroke="#d00a3c" stroke-width="1"/><path d="M471.30 289.5V289.7M471.30 301.9V302.1" stroke="#000" stroke-width="1" fill="none"/><rect x="469.60" y="289.7" width="3.4" height="12.2" fill="#fff" stroke="#000" stroke-width="1"/><path d="M476.08 279.1V284.1M476.08 298.4V301.7" stroke="#d00a3c" stroke-width="1" fill="none"/><rect x="473.88" y="283.6" width="4.4" height="15.3" fill="#d00a3c"/><path d="M480.86 269.2V270.0M480.86 290.3V290.3" stroke="#000" stroke-width="1" fill="none"/><rect x="479.16" y="270.0" width="3.4" height="20.3" fill="#fff" stroke="#000" stroke-width="1"/><path d="M485.64 260.2V263.9M485.64 270.4V273.9" stroke="#000" stroke-width="1" fill="none"/><rect x="483.94" y="263.9" width="3.4" height="6.5" fill="#fff" stroke="#000" stroke-width="1"/><path d="M490.42 253.6V253.7M490.42 265.1V272.7" stroke="#000" stroke-width="1" fill="none"/><rect x="488.72" y="253.7" width="3.4" height="11.4" fill="#fff" stroke="#000" stroke-width="1"/><path d="M495.20 250.2V253.9M495.20 263.5V269.5" stroke="#d00a3c" stroke-width="1" fill="none"/><rect x="493.00" y="253.4" width="4.4" height="10.6" fill="#d00a3c"/><path d="M499.98 259.9V262.1M499.98 262.4V268.3" stroke="#000" stroke-width="1" fill="none"/><rect x="498.28" y="262.1" width="3.4" height="1.0" fill="#fff" stroke="#000" stroke-width="1"/><path d="M504.76 265.7V265.7M504.76 274.2V276.9" stroke="#d00a3c" stroke-width="1" fill="none"/><rect x="502.56" y="265.2" width="4.4" height="9.5" fill="#d00a3c"/><path d="M509.54 243.2V247.3M509.54 266.2V266.2" stroke="#000" stroke-width="1" fill="none"/><rect x="507.84" y="247.3" width="3.4" height="18.8" fill="#fff" stroke="#000" stroke-width="1"/><path d="M514.32 233.1V234.8M514.32 246.7V255.3" stroke="#000" stroke-width="1" fill="none"/><rect x="512.62" y="234.8" width="3.4" height="11.9" fill="#fff" stroke="#000" stroke-width="1"/><path d="M519.10 217.6V220.1M519.10 231.0V233.1" stroke="#000" stroke-width="1" fill="none"/><rect x="517.40" y="220.1" width="3.4" height="10.9" fill="#fff" stroke="#000" stroke-width="1"/><path d="M523.88 216.4V223.1M523.88 224.6V228.8" stroke="#d00a3c" stroke-width="1" fill="none"/><rect x="522.18" y="223.1" width="3.4" height="1.6" fill="#fff" stroke="#d00a3c" stroke-width="1"/><path d="M528.66 217.6V226.7M528.66 230.0V232.9" stroke="#d00a3c" stroke-width="1" fill="none"/><rect x="526.46" y="226.2" width="4.4" height="4.3" fill="#d00a3c"/><path d="M533.44 210.7V213.9M533.44 225.8V225.8" stroke="#000" stroke-width="1" fill="none"/><rect x="531.74" y="213.9" width="3.4" height="11.9" fill="#fff" stroke="#000" stroke-width="1"/><path d="M538.22 212.3V214.0M538.22 214.7V218.8" stroke="#d00a3c" stroke-width="1" fill="none"/><rect x="536.02" y="213.5" width="4.4" height="2.0" fill="#d00a3c"/><path d="M543.00 214.8V216.4M543.00 223.8V225.9" stroke="#d00a3c" stroke-width="1" fill="none"/><rect x="541.30" y="216.4" width="3.4" height="7.4" fill="#fff" stroke="#d00a3c" stroke-width="1"/><path d="M547.78 206.0V213.7M547.78 217.7V220.4" stroke="#d00a3c" stroke-width="1" fill="none"/><rect x="545.58" y="213.2" width="4.4" height="5.0" fill="#d00a3c"/><path d="M552.56 218.4V219.4M552.56 222.1V224.7" stroke="#d00a3c" stroke-width="1" fill="none"/><rect x="550.36" y="218.9" width="4.4" height="3.7" fill="#d00a3c"/><path d="M557.34 200.0V200.2M557.34 207.4V207.4" stroke="#000" stroke-width="1" fill="none"/><rect x="555.64" y="200.2" width="3.4" height="7.2" fill="#fff" stroke="#000" stroke-width="1"/><path d="M562.12 188.5V195.9M562.12 200.9V202.4" stroke="#d00a3c" stroke-width="1" fill="none"/><rect x="559.92" y="195.4" width="4.4" height="6.0" fill="#d00a3c"/><path d="M566.90 183.0V183.1M566.90 196.5V197.8" stroke="#000" stroke-width="1" fill="none"/><rect x="565.20" y="183.1" width="3.4" height="13.5" fill="#fff" stroke="#000" stroke-width="1"/><path d="M571.68 177.8V178.9M571.68 185.7V188.7" stroke="#000" stroke-width="1" fill="none"/><rect x="569.98" y="178.9" width="3.4" height="6.7" fill="#fff" stroke="#000" stroke-width="1"/><path d="M576.46 172.1V177.0M576.46 180.5V183.6" stroke="#000" stroke-width="1" fill="none"/><rect x="574.76" y="177.0" width="3.4" height="3.6" fill="#fff" stroke="#000" stroke-width="1"/><path d="M581.24 177.7V183.0M581.24 184.5V189.6" stroke="#d00a3c" stroke-width="1" fill="none"/><rect x="579.04" y="182.5" width="4.4" height="2.5" fill="#d00a3c"/><path d="M586.02 180.0V182.2M586.02 184.8V187.5" stroke="#000" stroke-width="1" fill="none"/><rect x="584.32" y="182.2" width="3.4" height="2.6" fill="#fff" stroke="#000" stroke-width="1"/><path d="M590.80 186.4V186.4M590.80 195.7V198.1" stroke="#d00a3c" stroke-width="1" fill="none"/><rect x="588.60" y="185.9" width="4.4" height="10.3" fill="#d00a3c"/></g><rect x="-4.31" y="413.8" width="4.78" height="4.2" fill="#4a9ccc" stroke="#2a6a9a" stroke-width="0.6"/><rect x="0.47" y="413.8" width="4.78" height="7.0" fill="#4a9ccc" stroke="#2a6a9a" stroke-width="0.6"/><rect x="5.25" y="413.8" width="4.78" height="6.6" fill="#4a9ccc" stroke="#2a6a9a" stroke-width="0.6"/><rect x="10.03" y="413.8" width="4.78" height="3.6" fill="#4a9ccc" stroke="#2a6a9a" stroke-width="0.6"/><rect x="14.81" y="413.8" width="4.78" height="1.5" fill="#4a9ccc" stroke="#2a6a9a" stroke-width="0.6"/><rect x="19.59" y="413.8" width="4.78" height="1.6" fill="#4a9ccc" stroke="#2a6a9a" stroke-width="0.6"/><rect x="24.37" y="413.2" width="4.78" height="0.6" fill="#4a9ccc" stroke="#2a6a9a" stroke-width="0.6"/><rect x="29.15" y="412.2" width="4.78" height="1.6" fill="#4a9ccc" stroke="#2a6a9a" stroke-width="0.6"/><rect x="33.93" y="412.4" width="4.78" height="1.4" fill="#4a9ccc" stroke="#2a6a9a" stroke-width="0.6"/><rect x="38.71" y="413.8" width="4.78" height="1.6" fill="#4a9ccc" stroke="#2a6a9a" stroke-width="0.6"/><rect x="43.49" y="413.8" width="4.78" height="4.0" fill="#4a9ccc" stroke="#2a6a9a" stroke-width="0.6"/><rect x="48.27" y="413.8" width="4.78" height="2.5" fill="#4a9ccc" stroke="#2a6a9a" stroke-width="0.6"/><rect x="53.05" y="413.8" width="4.78" height="1.6" fill="#4a9ccc" stroke="#2a6a9a" stroke-width="0.6"/><rect x="57.83" y="413.8" width="4.78" height="2.2" fill="#4a9ccc" stroke="#2a6a9a" stroke-width="0.6"/><rect x="62.61" y="413.8" width="4.78" height="2.9" fill="#4a9ccc" stroke="#2a6a9a" stroke-width="0.6"/><rect x="67.39" y="413.8" width="4.78" height="0.8" fill="#4a9ccc" stroke="#2a6a9a" stroke-width="0.6"/><rect x="72.17" y="410.7" width="4.78" height="3.1" fill="#4a9ccc" stroke="#2a6a9a" stroke-width="0.6"/><rect x="76.95" y="406.9" width="4.78" height="6.9" fill="#4a9ccc" stroke="#2a6a9a" stroke-width="0.6"/><rect x="81.73" y="403.4" width="4.78" height="10.4" fill="#4a9ccc" stroke="#2a6a9a" stroke-width="0.6"/><rect x="86.51" y="401.6" width="4.78" height="12.2" fill="#4a9ccc" stroke="#2a6a9a" stroke-width="0.6"/><rect x="91.29" y="399.7" width="4.78" height="14.1" fill="#4a9ccc" stroke="#2a6a9a" stroke-width="0.6"/><rect x="96.07" y="400.5" width="4.78" height="13.3" fill="#4a9ccc" stroke="#2a6a9a" stroke-width="0.6"/><rect x="100.85" y="400.1" width="4.78" height="13.7" fill="#4a9ccc" stroke="#2a6a9a" stroke-width="0.6"/><rect x="105.63" y="399.9" width="4.78" height="13.9" fill="#4a9ccc" stroke="#2a6a9a" stroke-width="0.6"/><rect x="110.41" y="399.7" width="4.78" height="14.1" fill="#4a9ccc" stroke="#2a6a9a" stroke-width="0.6"/><rect x="115.19" y="398.9" width="4.78" height="14.9" fill="#4a9ccc" stroke="#2a6a9a" stroke-width="0.6"/><rect x="119.97" y="400.0" width="4.78" height="13.8" fill="#4a9ccc" stroke="#2a6a9a" stroke-width="0.6"/><rect x="124.75" y="403.2" width="4.78" height="10.6" fill="#4a9ccc" stroke="#2a6a9a" stroke-width="0.6"/><rect x="129.53" y="405.5" width="4.78" height="8.3" fill="#4a9ccc" stroke="#2a6a9a" stroke-width="0.6"/><rect x="134.31" y="406.6" width="4.78" height="7.2" fill="#4a9ccc" stroke="#2a6a9a" stroke-width="0.6"/><rect x="139.09" y="409.2" width="4.78" height="4.6" fill="#4a9ccc" stroke="#2a6a9a" stroke-width="0.6"/><rect x="143.87" y="412.2" width="4.78" height="1.6" fill="#4a9ccc" stroke="#2a6a9a" stroke-width="0.6"/><rect x="148.65" y="413.8" width="4.78" height="0.1" fill="#4a9ccc" stroke="#2a6a9a" stroke-width="0.6"/><rect x="153.43" y="413.8" width="4.78" height="1.6" fill="#4a9ccc" stroke="#2a6a9a" stroke-width="0.6"/><rect x="158.21" y="413.8" width="4.78" height="4.5" fill="#4a9ccc" stroke="#2a6a9a" stroke-width="0.6"/><rect x="162.99" y="413.8" width="4.78" height="6.5" fill="#4a9ccc" stroke="#2a6a9a" stroke-width="0.6"/><rect x="167.77" y="413.8" width="4.78" height="6.4" fill="#4a9ccc" stroke="#2a6a9a" stroke-width="0.6"/><rect x="172.55" y="413.8" width="4.78" height="7.3" fill="#4a9ccc" stroke="#2a6a9a" stroke-width="0.6"/><rect x="177.33" y="413.8" width="4.78" height="7.7" fill="#4a9ccc" stroke="#2a6a9a" stroke-width="0.6"/><rect x="182.11" y="413.8" width="4.78" height="5.8" fill="#4a9ccc" stroke="#2a6a9a" stroke-width="0.6"/><rect x="186.89" y="413.8" width="4.78" height="4.5" fill="#4a9ccc" stroke="#2a6a9a" stroke-width="0.6"/><rect x="191.67" y="413.8" width="4.78" height="5.1" fill="#4a9ccc" stroke="#2a6a9a" stroke-width="0.6"/><rect x="196.45" y="413.8" width="4.78" height="8.2" fill="#4a9ccc" stroke="#2a6a9a" stroke-width="0.6"/><rect x="201.23" y="413.8" width="4.78" height="9.1" fill="#4a9ccc" stroke="#2a6a9a" stroke-width="0.6"/><rect x="206.01" y="413.8" width="4.78" height="12.2" fill="#4a9ccc" stroke="#2a6a9a" stroke-width="0.6"/><rect x="210.79" y="413.8" width="4.78" height="13.2" fill="#4a9ccc" stroke="#2a6a9a" stroke-width="0.6"/><rect x="215.57" y="413.8" width="4.78" height="10.5" fill="#4a9ccc" stroke="#2a6a9a" stroke-width="0.6"/><rect x="220.35" y="413.8" width="4.78" height="12.0" fill="#4a9ccc" stroke="#2a6a9a" stroke-width="0.6"/><rect x="225.13" y="413.8" width="4.78" height="11.7" fill="#4a9ccc" stroke="#2a6a9a" stroke-width="0.6"/><rect x="229.91" y="413.8" width="4.78" height="10.2" fill="#4a9ccc" stroke="#2a6a9a" stroke-width="0.6"/><rect x="234.69" y="413.8" width="4.78" height="5.5" fill="#4a9ccc" stroke="#2a6a9a" stroke-width="0.6"/><rect x="239.47" y="413.8" width="4.78" height="5.8" fill="#4a9ccc" stroke="#2a6a9a" stroke-width="0.6"/><rect x="244.25" y="413.8" width="4.78" height="6.1" fill="#4a9ccc" stroke="#2a6a9a" stroke-width="0.6"/><rect x="249.03" y="413.8" width="4.78" height="9.0" fill="#4a9ccc" stroke="#2a6a9a" stroke-width="0.6"/><rect x="253.81" y="413.8" width="4.78" height="9.9" fill="#4a9ccc" stroke="#2a6a9a" stroke-width="0.6"/><rect x="258.59" y="413.8" width="4.78" height="11.3" fill="#4a9ccc" stroke="#2a6a9a" stroke-width="0.6"/><rect x="263.37" y="413.8" width="4.78" height="11.4" fill="#4a9ccc" stroke="#2a6a9a" stroke-width="0.6"/><rect x="268.15" y="413.8" width="4.78" height="8.3" fill="#4a9ccc" stroke="#2a6a9a" stroke-width="0.6"/><rect x="272.93" y="413.8" width="4.78" height="6.0" fill="#4a9ccc" stroke="#2a6a9a" stroke-width="0.6"/><rect x="277.71" y="413.8" width="4.78" height="1.9" fill="#4a9ccc" stroke="#2a6a9a" stroke-width="0.6"/><rect x="282.49" y="413.8" width="4.78" height="2.9" fill="#4a9ccc" stroke="#2a6a9a" stroke-width="0.6"/><rect x="287.27" y="413.8" width="4.78" height="3.6" fill="#4a9ccc" stroke="#2a6a9a" stroke-width="0.6"/><rect x="292.05" y="413.8" width="4.78" height="3.5" fill="#4a9ccc" stroke="#2a6a9a" stroke-width="0.6"/><rect x="296.83" y="413.8" width="4.78" height="1.1" fill="#4a9ccc" stroke="#2a6a9a" stroke-width="0.6"/><rect x="301.61" y="413.8" width="4.78" height="0.0" fill="#4a9ccc" stroke="#2a6a9a" stroke-width="0.6"/><rect x="306.39" y="411.8" width="4.78" height="2.0" fill="#4a9ccc" stroke="#2a6a9a" stroke-width="0.6"/><rect x="311.17" y="408.4" width="4.78" height="5.4" fill="#4a9ccc" stroke="#2a6a9a" stroke-width="0.6"/><rect x="315.95" y="403.7" width="4.78" height="10.1" fill="#4a9ccc" stroke="#2a6a9a" stroke-width="0.6"/><rect x="320.73" y="401.6" width="4.78" height="12.2" fill="#4a9ccc" stroke="#2a6a9a" stroke-width="0.6"/><rect x="325.51" y="401.4" width="4.78" height="12.4" fill="#4a9ccc" stroke="#2a6a9a" stroke-width="0.6"/><rect x="330.29" y="399.8" width="4.78" height="14.0" fill="#4a9ccc" stroke="#2a6a9a" stroke-width="0.6"/><rect x="335.07" y="401.0" width="4.78" height="12.8" fill="#4a9ccc" stroke="#2a6a9a" stroke-width="0.6"/><rect x="339.85" y="401.9" width="4.78" height="11.9" fill="#4a9ccc" stroke="#2a6a9a" stroke-width="0.6"/><rect x="344.63" y="401.9" width="4.78" height="11.9" fill="#4a9ccc" stroke="#2a6a9a" stroke-width="0.6"/><rect x="349.41" y="403.5" width="4.78" height="10.3" fill="#4a9ccc" stroke="#2a6a9a" stroke-width="0.6"/><rect x="354.19" y="407.3" width="4.78" height="6.5" fill="#4a9ccc" stroke="#2a6a9a" stroke-width="0.6"/><rect x="358.97" y="412.8" width="4.78" height="1.0" fill="#4a9ccc" stroke="#2a6a9a" stroke-width="0.6"/><rect x="363.75" y="413.8" width="4.78" height="6.0" fill="#4a9ccc" stroke="#2a6a9a" stroke-width="0.6"/><rect x="368.53" y="413.8" width="4.78" height="10.4" fill="#4a9ccc" stroke="#2a6a9a" stroke-width="0.6"/><rect x="373.31" y="413.8" width="4.78" height="11.0" fill="#4a9ccc" stroke="#2a6a9a" stroke-width="0.6"/><rect x="378.09" y="413.8" width="4.78" height="13.7" fill="#4a9ccc" stroke="#2a6a9a" stroke-width="0.6"/><rect x="382.87" y="413.8" width="4.78" height="14.3" fill="#4a9ccc" stroke="#2a6a9a" stroke-width="0.6"/><rect x="387.65" y="413.8" width="4.78" height="11.5" fill="#4a9ccc" stroke="#2a6a9a" stroke-width="0.6"/><rect x="392.43" y="413.8" width="4.78" height="8.9" fill="#4a9ccc" stroke="#2a6a9a" stroke-width="0.6"/><rect x="397.21" y="413.8" width="4.78" height="5.7" fill="#4a9ccc" stroke="#2a6a9a" stroke-width="0.6"/><rect x="401.99" y="413.8" width="4.78" height="0.3" fill="#4a9ccc" stroke="#2a6a9a" stroke-width="0.6"/><rect x="406.77" y="410.6" width="4.78" height="3.2" fill="#4a9ccc" stroke="#2a6a9a" stroke-width="0.6"/><rect x="411.55" y="410.3" width="4.78" height="3.5" fill="#4a9ccc" stroke="#2a6a9a" stroke-width="0.6"/><rect x="416.33" y="410.0" width="4.78" height="3.8" fill="#4a9ccc" stroke="#2a6a9a" stroke-width="0.6"/><rect x="421.11" y="410.6" width="4.78" height="3.2" fill="#4a9ccc" stroke="#2a6a9a" stroke-width="0.6"/><rect x="425.89" y="409.9" width="4.78" height="3.9" fill="#4a9ccc" stroke="#2a6a9a" stroke-width="0.6"/><rect x="430.67" y="409.2" width="4.78" height="4.6" fill="#4a9ccc" stroke="#2a6a9a" stroke-width="0.6"/><rect x="435.45" y="408.5" width="4.78" height="5.3" fill="#4a9ccc" stroke="#2a6a9a" stroke-width="0.6"/><rect x="440.23" y="406.6" width="4.78" height="7.2" fill="#4a9ccc" stroke="#2a6a9a" stroke-width="0.6"/><rect x="445.01" y="405.7" width="4.78" height="8.1" fill="#4a9ccc" stroke="#2a6a9a" stroke-width="0.6"/><rect x="449.79" y="406.5" width="4.78" height="7.3" fill="#4a9ccc" stroke="#2a6a9a" stroke-width="0.6"/><rect x="454.57" y="408.0" width="4.78" height="5.8" fill="#4a9ccc" stroke="#2a6a9a" stroke-width="0.6"/><rect x="459.35" y="409.5" width="4.78" height="4.3" fill="#4a9ccc" stroke="#2a6a9a" stroke-width="0.6"/><rect x="464.13" y="410.8" width="4.78" height="3.0" fill="#4a9ccc" stroke="#2a6a9a" stroke-width="0.6"/><rect x="468.91" y="409.8" width="4.78" height="4.0" fill="#4a9ccc" stroke="#2a6a9a" stroke-width="0.6"/><rect x="473.69" y="410.1" width="4.78" height="3.7" fill="#4a9ccc" stroke="#2a6a9a" stroke-width="0.6"/><rect x="478.47" y="407.7" width="4.78" height="6.1" fill="#4a9ccc" stroke="#2a6a9a" stroke-width="0.6"/><rect x="483.25" y="405.8" width="4.78" height="8.0" fill="#4a9ccc" stroke="#2a6a9a" stroke-width="0.6"/><rect x="488.03" y="404.0" width="4.78" height="9.8" fill="#4a9ccc" stroke="#2a6a9a" stroke-width="0.6"/><rect x="492.81" y="404.2" width="4.78" height="9.6" fill="#4a9ccc" stroke="#2a6a9a" stroke-width="0.6"/><rect x="497.59" y="404.7" width="4.78" height="9.1" fill="#4a9ccc" stroke="#2a6a9a" stroke-width="0.6"/><rect x="502.37" y="406.5" width="4.78" height="7.3" fill="#4a9ccc" stroke="#2a6a9a" stroke-width="0.6"/><rect x="507.15" y="405.5" width="4.78" height="8.3" fill="#4a9ccc" stroke="#2a6a9a" stroke-width="0.6"/><rect x="511.93" y="404.1" width="4.78" height="9.7" fill="#4a9ccc" stroke="#2a6a9a" stroke-width="0.6"/><rect x="516.71" y="402.4" width="4.78" height="11.4" fill="#4a9ccc" stroke="#2a6a9a" stroke-width="0.6"/><rect x="521.49" y="402.2" width="4.78" height="11.6" fill="#4a9ccc" stroke="#2a6a9a" stroke-width="0.6"/><rect x="526.27" y="403.4" width="4.78" height="10.4" fill="#4a9ccc" stroke="#2a6a9a" stroke-width="0.6"/><rect x="531.05" y="403.3" width="4.78" height="10.5" fill="#4a9ccc" stroke="#2a6a9a" stroke-width="0.6"/><rect x="535.83" y="403.9" width="4.78" height="9.9" fill="#4a9ccc" stroke="#2a6a9a" stroke-width="0.6"/><rect x="540.61" y="405.2" width="4.78" height="8.6" fill="#4a9ccc" stroke="#2a6a9a" stroke-width="0.6"/><rect x="545.39" y="406.7" width="4.78" height="7.1" fill="#4a9ccc" stroke="#2a6a9a" stroke-width="0.6"/><rect x="550.17" y="408.6" width="4.78" height="5.2" fill="#4a9ccc" stroke="#2a6a9a" stroke-width="0.6"/><rect x="554.95" y="408.1" width="4.78" height="5.7" fill="#4a9ccc" stroke="#2a6a9a" stroke-width="0.6"/><rect x="559.73" y="408.4" width="4.78" height="5.4" fill="#4a9ccc" stroke="#2a6a9a" stroke-width="0.6"/><rect x="564.51" y="407.3" width="4.78" height="6.5" fill="#4a9ccc" stroke="#2a6a9a" stroke-width="0.6"/><rect x="569.29" y="406.7" width="4.78" height="7.1" fill="#4a9ccc" stroke="#2a6a9a" stroke-width="0.6"/><rect x="574.07" y="406.8" width="4.78" height="7.0" fill="#4a9ccc" stroke="#2a6a9a" stroke-width="0.6"/><rect x="578.85" y="408.2" width="4.78" height="5.6" fill="#4a9ccc" stroke="#2a6a9a" stroke-width="0.6"/><rect x="583.63" y="409.5" width="4.78" height="4.3" fill="#4a9ccc" stroke="#2a6a9a" stroke-width="0.6"/><rect x="588.41" y="412.1" width="4.78" height="1.7" fill="#4a9ccc" stroke="#2a6a9a" stroke-width="0.6"/><polyline points="-1.9,430.7 2.9,432.4 7.6,434.1 12.4,435.0 17.2,435.4 22.0,435.8 26.8,435.6 31.5,435.2 36.3,434.9 41.1,435.3 45.9,436.3 50.7,436.9 55.4,437.3 60.2,437.9 65.0,438.6 69.8,438.8 74.6,438.0 79.3,436.3 84.1,433.7 88.9,430.6 93.7,427.1 98.5,423.8 103.2,420.4 108.0,416.9 112.8,413.4 117.6,409.7 122.4,406.2 127.1,403.6 131.9,401.5 136.7,399.7 141.5,398.5 146.3,398.1 151.0,398.1 155.8,398.6 160.6,399.7 165.4,401.3 170.2,402.9 174.9,404.7 179.7,406.6 184.5,408.1 189.3,409.2 194.1,410.5 198.8,412.5 203.6,414.8 208.4,417.8 213.2,421.1 218.0,423.8 222.7,426.8 227.5,429.7 232.3,432.2 237.1,433.6 241.9,435.1 246.6,436.6 251.4,438.9 256.2,441.3 261.0,444.1 265.8,447.0 270.5,449.1 275.3,450.5 280.1,451.0 284.9,451.7 289.7,452.6 294.4,453.5 299.2,453.8 304.0,453.8 308.8,453.3 313.6,452.0 318.3,449.5 323.1,446.4 327.9,443.3 332.7,439.8 337.5,436.6 342.2,433.6 347.0,430.7 351.8,428.1 356.6,426.4 361.4,426.2 366.1,427.7 370.9,430.3 375.7,433.0 380.5,436.5 385.3,440.0 390.0,442.9 394.8,445.1 399.6,446.6 404.4,446.6 409.2,445.9 413.9,445.0 418.7,444.0 423.5,443.2 428.3,442.2 433.1,441.1 437.8,439.8 442.6,438.0 447.4,435.9 452.2,434.1 457.0,432.7 461.7,431.6 466.5,430.8 471.3,429.9 476.1,428.9 480.9,427.4 485.6,425.4 490.4,423.0 495.2,420.6 500.0,418.3 504.8,416.5 509.5,414.4 514.3,412.0 519.1,409.1 523.9,406.2 528.7,403.6 533.4,401.0 538.2,398.5 543.0,396.4 547.8,394.6 552.6,393.3 557.3,391.8 562.1,390.5 566.9,388.9 571.7,387.1 576.5,385.3 581.2,384.0 586.0,382.9 590.8,382.4" stroke="#e8564f" stroke-width="1.3" fill="none"/><polyline points="-1.9,434.9 2.9,439.4 7.6,440.7 12.4,438.5 17.2,436.9 22.0,437.4 26.8,435.0 31.5,433.7 36.3,433.4 41.1,436.9 45.9,440.3 50.7,439.4 55.4,439.0 60.2,440.0 65.0,441.5 69.8,439.6 74.6,434.9 79.3,429.4 84.1,423.3 88.9,418.4 93.7,413.1 98.5,410.5 103.2,406.7 108.0,403.0 112.8,399.3 117.6,394.8 122.4,392.4 127.1,392.9 131.9,393.2 136.7,392.4 141.5,393.9 146.3,396.6 151.0,398.3 155.8,400.2 160.6,404.1 165.4,407.8 170.2,409.2 174.9,412.1 179.7,414.3 184.5,413.9 189.3,413.7 194.1,415.6 198.8,420.7 203.6,423.9 208.4,430.0 213.2,434.3 218.0,434.3 222.7,438.8 227.5,441.4 232.3,442.4 237.1,439.1 241.9,440.9 246.6,442.7 251.4,447.9 256.2,451.2 261.0,455.4 265.8,458.4 270.5,457.3 275.3,456.5 280.1,452.9 284.9,454.7 289.7,456.3 294.4,457.1 299.2,455.0 304.0,453.8 308.8,451.3 313.6,446.6 318.3,439.4 323.1,434.2 327.9,430.9 332.7,425.8 337.5,423.8 342.2,421.7 347.0,418.7 351.8,417.8 356.6,419.9 361.4,425.1 366.1,433.7 370.9,440.6 375.7,444.1 380.5,450.2 385.3,454.3 390.0,454.4 394.8,454.1 399.6,452.3 404.4,446.9 409.2,442.7 413.9,441.4 418.7,440.2 423.5,440.0 428.3,438.3 433.1,436.5 437.8,434.4 442.6,430.8 447.4,427.9 452.2,426.8 457.0,426.9 461.7,427.3 466.5,427.9 471.3,425.9 476.1,425.2 480.9,421.3 485.6,417.5 490.4,413.2 495.2,411.0 500.0,409.2 504.8,409.2 509.5,406.1 514.3,402.3 519.1,397.7 523.9,394.6 528.7,393.2 533.4,390.5 538.2,388.6 543.0,387.7 547.8,387.4 552.6,388.1 557.3,386.2 562.1,385.1 566.9,382.3 571.7,380.0 576.5,378.3 581.2,378.4 586.0,378.5 590.8,380.7" stroke="#1a1a1a" stroke-width="2" fill="none" stroke-linejoin="round"/><path d="M0 92.5H598M0 358.5H598M0 371.6H598" stroke="#c8c8c8" stroke-width="1" fill="none"/><path d="M597.8 0V359M597.8 371V464" stroke="#c0c0c0" stroke-width="1" fill="none"/><path d="M0 0.5H640M0 463.5H640M0.5 0V464" stroke="#d6d6d6" stroke-width="1" fill="none"/><path d="M597.8 86.4h2.2 M597.8 82.4h2.2 M597.8 78.4h2.2 M597.8 74.4h2.2 M597.8 70.4h2.2 M597.8 66.4h2.2 M597.8 62.4h2.2 M597.8 58.4h2.2 M597.8 54.4h2.2 M597.8 50.4h2.2 M597.8 46.4h2.2 M597.8 42.4h2.2 M597.8 38.4h2.2 M597.8 34.4h2.2 M597.8 30.4h2.2 M597.8 26.4h2.2 M597.8 22.4h2.2 M597.8 18.4h2.2 M597.8 14.4h2.2 M597.8 10.4h2.2 M597.8 6.4h2.2 M597.8 345.8h2.2 M597.8 340.2h2.2 M597.8 334.5h2.2 M597.8 328.9h2.2 M597.8 323.3h2.2 M597.8 317.8h2.2 M597.8 312.3h2.2 M597.8 306.8h2.2 M597.8 301.3h2.2 M597.8 295.9h2.2 M597.8 290.5h2.2 M597.8 285.1h2.2 M597.8 279.8h2.2 M597.8 274.5h2.2 M597.8 269.2h2.2 M597.8 263.9h2.2 M597.8 258.7h2.2 M597.8 253.5h2.2 M597.8 248.3h2.2 M597.8 243.1h2.2 M597.8 238.0h2.2 M597.8 232.9h2.2 M597.8 227.8h2.2 M597.8 222.7h2.2 M597.8 217.7h2.2 M597.8 212.7h2.2 M597.8 207.7h2.2 M597.8 202.7h2.2 M597.8 197.8h2.2 M597.8 192.9h2.2 M597.8 188.0h2.2 M597.8 183.1h2.2 M597.8 178.2h2.2 M597.8 173.4h2.2 M597.8 168.6h2.2 M597.8 163.8h2.2 M597.8 159.1h2.2 M597.8 154.3h2.2 M597.8 149.6h2.2 M597.8 144.9h2.2 M597.8 140.2h2.2 M597.8 135.6h2.2 M597.8 131.0h2.2 M597.8 126.3h2.2 M597.8 121.8h2.2 M597.8 117.2h2.2 M597.8 112.6h2.2 M597.8 108.1h2.2 M597.8 103.6h2.2 M597.8 455.9h2.2 M597.8 452.1h2.2 M597.8 448.3h2.2 M597.8 444.4h2.2 M597.8 440.6h2.2 M597.8 436.8h2.2 M597.8 432.9h2.2 M597.8 429.1h2.2 M597.8 425.3h2.2 M597.8 421.5h2.2 M597.8 417.6h2.2 M597.8 413.8h2.2 M597.8 410.0h2.2 M597.8 406.1h2.2 M597.8 402.3h2.2 M597.8 398.5h2.2 M597.8 394.7h2.2 M597.8 390.8h2.2 M597.8 387.0h2.2 M597.8 383.2h2.2 M597.8 379.3h2.2 M597.8 375.5h2.2 M2.9 371.6v-1.6 M7.6 371.6v-1.6 M12.4 371.6v-1.6 M17.2 371.6v-1.6 M22.0 371.6v-1.6 M26.8 371.6v-1.6 M31.5 371.6v-1.6 M36.3 371.6v-1.6 M41.1 371.6v-1.6 M45.9 371.6v-1.6 M50.7 371.6v-1.6 M55.4 371.6v-1.6 M60.2 371.6v-1.6 M65.0 371.6v-1.6 M69.8 371.6v-1.6 M74.6 371.6v-1.6 M79.3 371.6v-1.6 M84.1 371.6v-1.6 M88.9 371.6v-1.6 M93.7 371.6v-1.6 M98.5 371.6v-1.6 M103.2 371.6v-1.6 M108.0 371.6v-1.6 M112.8 371.6v-1.6 M117.6 371.6v-1.6 M122.4 371.6v-1.6 M127.1 371.6v-1.6 M131.9 371.6v-1.6 M136.7 371.6v-1.6 M141.5 371.6v-1.6 M146.3 371.6v-1.6 M151.0 371.6v-1.6 M155.8 371.6v-1.6 M160.6 371.6v-1.6 M165.4 371.6v-1.6 M170.2 371.6v-1.6 M174.9 371.6v-1.6 M179.7 371.6v-1.6 M184.5 371.6v-1.6 M189.3 371.6v-1.6 M194.1 371.6v-1.6 M198.8 371.6v-1.6 M203.6 371.6v-1.6 M208.4 371.6v-1.6 M213.2 371.6v-1.6 M218.0 371.6v-1.6 M222.7 371.6v-1.6 M227.5 371.6v-1.6 M232.3 371.6v-1.6 M237.1 371.6v-1.6 M241.9 371.6v-1.6 M246.6 371.6v-1.6 M251.4 371.6v-1.6 M256.2 371.6v-1.6 M261.0 371.6v-1.6 M265.8 371.6v-1.6 M270.5 371.6v-1.6 M275.3 371.6v-1.6 M280.1 371.6v-1.6 M284.9 371.6v-1.6 M289.7 371.6v-1.6 M294.4 371.6v-1.6 M299.2 371.6v-1.6 M304.0 371.6v-1.6 M308.8 371.6v-1.6 M313.6 371.6v-1.6 M318.3 371.6v-1.6 M323.1 371.6v-1.6 M327.9 371.6v-1.6 M332.7 371.6v-1.6 M337.5 371.6v-1.6 M342.2 371.6v-1.6 M347.0 371.6v-1.6 M351.8 371.6v-1.6 M356.6 371.6v-1.6 M361.4 371.6v-1.6 M366.1 371.6v-1.6 M370.9 371.6v-1.6 M375.7 371.6v-1.6 M380.5 371.6v-1.6 M385.3 371.6v-1.6 M390.0 371.6v-1.6 M394.8 371.6v-1.6 M399.6 371.6v-1.6 M404.4 371.6v-1.6 M409.2 371.6v-1.6 M413.9 371.6v-1.6 M418.7 371.6v-1.6 M423.5 371.6v-1.6 M428.3 371.6v-1.6 M433.1 371.6v-1.6 M437.8 371.6v-1.6 M442.6 371.6v-1.6 M447.4 371.6v-1.6 M452.2 371.6v-1.6 M457.0 371.6v-1.6 M461.7 371.6v-1.6 M466.5 371.6v-1.6 M471.3 371.6v-1.6 M476.1 371.6v-1.6 M480.9 371.6v-1.6 M485.6 371.6v-1.6 M490.4 371.6v-1.6 M495.2 371.6v-1.6 M500.0 371.6v-1.6 M504.8 371.6v-1.6 M509.5 371.6v-1.6 M514.3 371.6v-1.6 M519.1 371.6v-1.6 M523.9 371.6v-1.6 M528.7 371.6v-1.6 M533.4 371.6v-1.6 M538.2 371.6v-1.6 M543.0 371.6v-1.6 M547.8 371.6v-1.6 M552.6 371.6v-1.6 M557.3 371.6v-1.6 M562.1 371.6v-1.6 M566.9 371.6v-1.6 M571.7 371.6v-1.6 M576.5 371.6v-1.6 M581.2 371.6v-1.6 M586.0 371.6v-1.6 M590.8 371.6v-1.6" stroke="#d0d0d0" stroke-width="1" fill="none"/><text x="601.5" y="18.000000000000007" font-size="10" fill="#333" stroke="#333" stroke-width="0.25" font-weight="normal" textLength="11.5" lengthAdjust="spacingAndGlyphs">90</text><text x="601.5" y="34.00000000000001" font-size="10" fill="#333" stroke="#333" stroke-width="0.25" font-weight="normal" textLength="11.5" lengthAdjust="spacingAndGlyphs">70</text><text x="601.5" y="50.00000000000001" font-size="10" fill="#333" stroke="#333" stroke-width="0.25" font-weight="normal" textLength="11.5" lengthAdjust="spacingAndGlyphs">50</text><text x="601.5" y="66.0" font-size="10" fill="#333" stroke="#333" stroke-width="0.25" font-weight="normal" textLength="11.5" lengthAdjust="spacingAndGlyphs">30</text><text x="601.5" y="82.0" font-size="10" fill="#333" stroke="#333" stroke-width="0.25" font-weight="normal" textLength="11.5" lengthAdjust="spacingAndGlyphs">10</text><text x="601.3" y="338.1324231986654" font-size="10" fill="#333" stroke="#333" stroke-width="0.25" font-weight="normal" textLength="21.6" lengthAdjust="spacingAndGlyphs">3700</text><text x="601.3" y="310.3974462332176" font-size="10" fill="#333" stroke="#333" stroke-width="0.25" font-weight="normal" textLength="21.6" lengthAdjust="spacingAndGlyphs">3800</text><text x="601.3" y="283.38294037382656" font-size="10" fill="#333" stroke="#333" stroke-width="0.25" font-weight="normal" textLength="21.6" lengthAdjust="spacingAndGlyphs">3900</text><text x="601.3" y="257.052420070165" font-size="10" fill="#333" stroke="#333" stroke-width="0.25" font-weight="normal" textLength="21.6" lengthAdjust="spacingAndGlyphs">4000</text><text x="601.3" y="231.37210297617875" font-size="10" fill="#333" stroke="#333" stroke-width="0.25" font-weight="normal" textLength="21.6" lengthAdjust="spacingAndGlyphs">4100</text><text x="601.3" y="206.31064933395587" font-size="10" fill="#333" stroke="#333" stroke-width="0.25" font-weight="normal" textLength="21.6" lengthAdjust="spacingAndGlyphs">4200</text><text x="601.3" y="181.83893202735376" font-size="10" fill="#333" stroke="#333" stroke-width="0.25" font-weight="normal" textLength="21.6" lengthAdjust="spacingAndGlyphs">4300</text><text x="601.3" y="157.92983307366714" font-size="10" fill="#333" stroke="#333" stroke-width="0.25" font-weight="normal" textLength="21.6" lengthAdjust="spacingAndGlyphs">4400</text><text x="601.3" y="134.55806298752617" font-size="10" fill="#333" stroke="#333" stroke-width="0.25" font-weight="normal" textLength="21.6" lengthAdjust="spacingAndGlyphs">4500</text><text x="601.3" y="111.69999999999999" font-size="10" fill="#333" stroke="#333" stroke-width="0.25" font-weight="normal" textLength="21.6" lengthAdjust="spacingAndGlyphs">4600</text><text x="603.5" y="379.1" font-size="10" fill="#333" stroke="#333" stroke-width="0.25" font-weight="normal" textLength="17.5" lengthAdjust="spacingAndGlyphs">100</text><text x="610" y="398.25000000000006" font-size="10" fill="#333" stroke="#333" stroke-width="0.25" font-weight="normal" textLength="11" lengthAdjust="spacingAndGlyphs">50</text><text x="606.8" y="436.55" font-size="10" fill="#333" stroke="#333" stroke-width="0.25" font-weight="normal" textLength="14.2" lengthAdjust="spacingAndGlyphs">-50</text><text x="601.5" y="455.70000000000005" font-size="10" fill="#333" stroke="#333" stroke-width="0.25" font-weight="normal" textLength="19.5" lengthAdjust="spacingAndGlyphs">-100</text><path d="M3 9.8 L6.3 2.2 L8.3 6.4 L10.2 3.8 L11.4 9.8 Z" fill="#8cc08c"/><path d="M3.2 9.6L6.3 2.4L8.3 6.4L10.4 4V9.6" fill="none" stroke="#162016" stroke-width="1.5" stroke-linejoin="round"/><text stroke="#333" stroke-width="0.2" x="15" y="10.2" font-size="9.6" fill="#333" font-weight="normal" text-anchor="start" textLength="75" lengthAdjust="spacingAndGlyphs">RSI(14) 61.26</text><path d="M4.3 95.3V102.6M9.8 95.3V102.6" stroke="#000" stroke-width="1"/><rect x="2.6" y="96.4" width="3.6" height="5" rx="0.8" fill="#000"/><rect x="8.1" y="96.4" width="3.6" height="5" rx="0.8" fill="#000"/><text stroke="#2a2a2a" stroke-width="0.2" x="14.8" y="102.5" font-size="9.3" fill="#2a2a2a" font-weight="normal" text-anchor="start" textLength="112.7" lengthAdjust="spacingAndGlyphs">$SPX (Daily) 4228.48</text><path d="M2.8 109.2H11.6" stroke="#1c1c8c" stroke-width="2.4"/><text x="12.6" y="112.6" font-size="8.8" fill="#3c3cae" font-weight="normal" text-anchor="start" textLength="66.3" lengthAdjust="spacingAndGlyphs">MA(50) 3966.78</text><path d="M2.8 119.5H11.6" stroke="#b83858" stroke-width="2.4"/><text x="12.6" y="123" font-size="8.8" fill="#d0304f" font-weight="normal" text-anchor="start" textLength="71" lengthAdjust="spacingAndGlyphs">MA(200) 4320.86</text><path d="M3.4 133V129.5M5.6 133V127M7.8 133V128.5M10 133V126" stroke="#555" stroke-width="1.8"/><text x="12.6" y="132.9" font-size="8.8" fill="#4a4a4a" font-weight="normal" text-anchor="start" textLength="60.1" lengthAdjust="spacingAndGlyphs">Volume undef</text><path d="M2.8 378.4H11.4" stroke="#111" stroke-width="2.2"/><text stroke="#333" stroke-width="0.2" x="15" y="382.7" font-size="9.4" fill="#333" font-weight="normal" text-anchor="start" textLength="120.6" lengthAdjust="spacingAndGlyphs">MACD(12,26,9) 86.347</text><text stroke="#e04848" stroke-width="0.15" x="136.3" y="382.7" font-size="9.4" fill="#e04848" font-weight="normal" text-anchor="start" textLength="44" lengthAdjust="spacingAndGlyphs">, 81.884</text><text stroke="#3a9ad0" stroke-width="0.15" x="181.4" y="382.7" font-size="9.4" fill="#3a9ad0" font-weight="normal" text-anchor="start" textLength="37.6" lengthAdjust="spacingAndGlyphs">, 4.462</text><text stroke="#1a1a1a" stroke-width="0.3" x="22.0" y="368.7" font-size="10" fill="#1a1a1a" font-weight="bold" text-anchor="middle" textLength="18.7" lengthAdjust="spacingAndGlyphs">Mar</text><text stroke="#2a2a2a" stroke-width="0.15" x="41.1" y="368.7" font-size="10" fill="#2a2a2a" font-weight="normal" text-anchor="middle" textLength="5.6" lengthAdjust="spacingAndGlyphs">7</text><text stroke="#2a2a2a" stroke-width="0.15" x="65.0" y="368.7" font-size="10" fill="#2a2a2a" font-weight="normal" text-anchor="middle" textLength="10.6" lengthAdjust="spacingAndGlyphs">14</text><text stroke="#2a2a2a" stroke-width="0.15" x="88.9" y="368.7" font-size="10" fill="#2a2a2a" font-weight="normal" text-anchor="middle" textLength="10.6" lengthAdjust="spacingAndGlyphs">21</text><text stroke="#2a2a2a" stroke-width="0.15" x="112.8" y="368.7" font-size="10" fill="#2a2a2a" font-weight="normal" text-anchor="middle" textLength="10.6" lengthAdjust="spacingAndGlyphs">28</text><text stroke="#1a1a1a" stroke-width="0.3" x="131.9" y="368.7" font-size="10" fill="#1a1a1a" font-weight="bold" text-anchor="middle" textLength="19" lengthAdjust="spacingAndGlyphs">Apr</text><text stroke="#2a2a2a" stroke-width="0.15" x="160.6" y="368.7" font-size="10" fill="#2a2a2a" font-weight="normal" text-anchor="middle" textLength="10.6" lengthAdjust="spacingAndGlyphs">11</text><text stroke="#2a2a2a" stroke-width="0.15" x="179.7" y="368.7" font-size="10" fill="#2a2a2a" font-weight="normal" text-anchor="middle" textLength="10.6" lengthAdjust="spacingAndGlyphs">18</text><text stroke="#2a2a2a" stroke-width="0.15" x="203.6" y="368.7" font-size="10" fill="#2a2a2a" font-weight="normal" text-anchor="middle" textLength="10.6" lengthAdjust="spacingAndGlyphs">25</text><text stroke="#1a1a1a" stroke-width="0.3" x="227.5" y="368.7" font-size="10" fill="#1a1a1a" font-weight="bold" text-anchor="middle" textLength="20.5" lengthAdjust="spacingAndGlyphs">May</text><text stroke="#2a2a2a" stroke-width="0.15" x="251.4" y="368.7" font-size="10" fill="#2a2a2a" font-weight="normal" text-anchor="middle" textLength="5.6" lengthAdjust="spacingAndGlyphs">9</text><text stroke="#2a2a2a" stroke-width="0.15" x="275.3" y="368.7" font-size="10" fill="#2a2a2a" font-weight="normal" text-anchor="middle" textLength="10.6" lengthAdjust="spacingAndGlyphs">16</text><text stroke="#2a2a2a" stroke-width="0.15" x="299.2" y="368.7" font-size="10" fill="#2a2a2a" font-weight="normal" text-anchor="middle" textLength="10.6" lengthAdjust="spacingAndGlyphs">23</text><text stroke="#1a1a1a" stroke-width="0.3" x="329.3" y="368.7" font-size="10" fill="#1a1a1a" font-weight="bold" text-anchor="middle" textLength="18" lengthAdjust="spacingAndGlyphs">Jun</text><text stroke="#2a2a2a" stroke-width="0.15" x="342.2" y="368.7" font-size="10" fill="#2a2a2a" font-weight="normal" text-anchor="middle" textLength="5.6" lengthAdjust="spacingAndGlyphs">6</text><text stroke="#2a2a2a" stroke-width="0.15" x="366.1" y="368.7" font-size="10" fill="#2a2a2a" font-weight="normal" text-anchor="middle" textLength="10.6" lengthAdjust="spacingAndGlyphs">13</text><text stroke="#2a2a2a" stroke-width="0.15" x="390.0" y="368.7" font-size="10" fill="#2a2a2a" font-weight="normal" text-anchor="middle" textLength="10.6" lengthAdjust="spacingAndGlyphs">21</text><text stroke="#2a2a2a" stroke-width="0.15" x="409.2" y="368.7" font-size="10" fill="#2a2a2a" font-weight="normal" text-anchor="middle" textLength="10.6" lengthAdjust="spacingAndGlyphs">27</text><text stroke="#1a1a1a" stroke-width="0.3" x="428.3" y="368.7" font-size="10" fill="#1a1a1a" font-weight="bold" text-anchor="middle" textLength="14.6" lengthAdjust="spacingAndGlyphs">Jul</text><text stroke="#2a2a2a" stroke-width="0.15" x="452.2" y="368.7" font-size="10" fill="#2a2a2a" font-weight="normal" text-anchor="middle" textLength="10.6" lengthAdjust="spacingAndGlyphs">11</text><text stroke="#2a2a2a" stroke-width="0.15" x="476.1" y="368.7" font-size="10" fill="#2a2a2a" font-weight="normal" text-anchor="middle" textLength="10.6" lengthAdjust="spacingAndGlyphs">18</text><text stroke="#2a2a2a" stroke-width="0.15" x="500.0" y="368.7" font-size="10" fill="#2a2a2a" font-weight="normal" text-anchor="middle" textLength="10.6" lengthAdjust="spacingAndGlyphs">25</text><text stroke="#1a1a1a" stroke-width="0.3" x="523.9" y="368.7" font-size="10" fill="#1a1a1a" font-weight="bold" text-anchor="middle" textLength="21" lengthAdjust="spacingAndGlyphs">Aug</text><text stroke="#2a2a2a" stroke-width="0.15" x="547.8" y="368.7" font-size="10" fill="#2a2a2a" font-weight="normal" text-anchor="middle" textLength="5.6" lengthAdjust="spacingAndGlyphs">8</text><text stroke="#2a2a2a" stroke-width="0.15" x="571.7" y="368.7" font-size="10" fill="#2a2a2a" font-weight="normal" text-anchor="middle" textLength="10.6" lengthAdjust="spacingAndGlyphs">15</text><path d="M595.8 37.099999999999994L599.0 32.4H628V41.8H599.0Z" fill="#fff" stroke="#333" stroke-width="1.5"/><text x="599.6" y="40.5" font-size="10" fill="#222" font-weight="normal" text-anchor="start" textLength="25.8" lengthAdjust="spacingAndGlyphs">61.26</text><path d="M595.8 171.7L599.0 166.8H639.2V176.6H599.0Z" fill="#fff" stroke="#e07a90" stroke-width="1.5"/><text x="599.4" y="174.6" font-size="10" fill="#222" font-weight="normal" text-anchor="start" textLength="37.7" lengthAdjust="spacingAndGlyphs">4320.86</text><path d="M596 195.3L599.2 190.6H638.8V200H599.2Z" fill="#fff" stroke="#444" stroke-width="1.5"/><text x="599.9" y="198.4" font-size="10" fill="#111" font-weight="bold" text-anchor="start" textLength="37.2" lengthAdjust="spacingAndGlyphs">4228.48</text><path d="M596 261.29999999999995L599.2 256.4H639.2V266.2H599.2Z" fill="#fff" stroke="#6a6ab8" stroke-width="1.5"/><text x="599.4" y="264.4" font-size="10" fill="#222" font-weight="normal" text-anchor="start" textLength="37.7" lengthAdjust="spacingAndGlyphs">3966.78</text><path d="M595.8 329.9L599.0 325.2H641V334.6H599.0Z" fill="#fff" stroke="#555" stroke-width="1.3"/><text x="599.6" y="333.2" font-size="10" fill="#222" font-weight="normal" text-anchor="start" textLength="40.5" lengthAdjust="spacingAndGlyphs">1733094</text><path d="M595.6 382.5L598.8000000000001 377.6H633.6V387.4H598.8000000000001Z" fill="#fff" stroke="#d04848" stroke-width="1.6"/><path d="M595.4 380.6L598.6 375.8H633.6V385.4H598.6Z" fill="#fff" stroke="#444" stroke-width="1.3"/><text x="599.4" y="383.8" font-size="10" fill="#222" font-weight="normal" text-anchor="start" textLength="32.5" lengthAdjust="spacingAndGlyphs">86.347</text><path d="M596.4 412.1L599.6 407.2H627.6V417H599.6Z" fill="#fff" stroke="#7ab0d8" stroke-width="1.3"/><text x="600" y="415" font-size="10" fill="#222" font-weight="normal" text-anchor="start" textLength="25.5" lengthAdjust="spacingAndGlyphs">4.462</text></svg></body></html>
